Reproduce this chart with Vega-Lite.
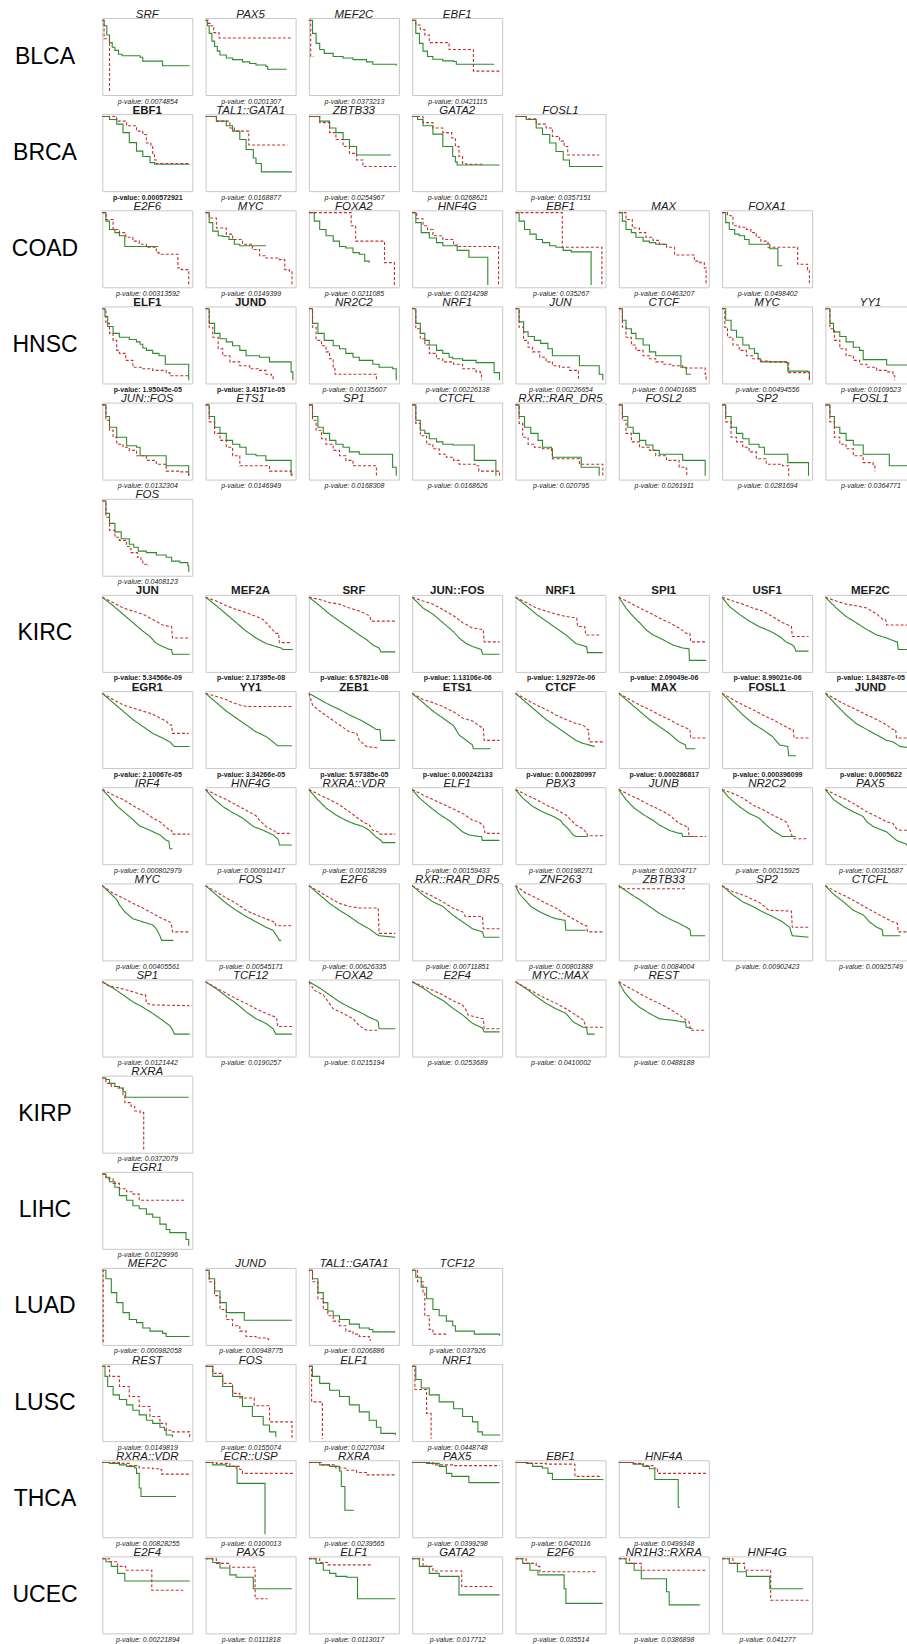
{"$schema":"https://vega.github.io/schema/vega-lite/v6.json","padding":{"top":8,"left":5,"right":5,"bottom":2},"columns":9,"align":"each","bounds":"flush","spacing":{"row":19.15,"column":13.3},
"concat":[
{"view":{"stroke":null},"width":84,"height":77,"data":{"values":[{}]},"mark":{"type":"text","text":"BLCA","fontSize":23,"dx":-2}},
{"title":"SRF","data":{"values":[{"g":"a","t":0,"s":0.97},{"g":"a","t":2,"s":0.9},{"g":"a","t":5,"s":0.78},{"g":"a","t":8,"s":0.68},{"g":"a","t":11,"s":0.62},{"g":"a","t":14,"s":0.58},{"g":"a","t":18,"s":0.53},{"g":"a","t":22,"s":0.51},{"g":"a","t":42,"s":0.49},{"g":"a","t":45,"s":0.44},{"g":"a","t":67,"s":0.38},{"g":"a","t":97,"s":0.38},{"g":"b","t":0,"s":0.97},{"g":"b","t":2,"s":0.73},{"g":"b","t":8,"s":0.05}]},"mark":"line","encoding":{"x":{"field":"t","type":"quantitative","title":"p-value: 0.0074854"},"y":{"field":"s","type":"quantitative"},"color":{"field":"g"},"strokeDash":{"field":"g","scale":{"range":[[1,0],[3,2]]}}}},
{"title":"PAX5","data":{"values":[{"g":"a","t":0,"s":0.97},{"g":"a","t":2,"s":0.9},{"g":"a","t":4,"s":0.8},{"g":"a","t":7,"s":0.7},{"g":"a","t":10,"s":0.63},{"g":"a","t":13,"s":0.57},{"g":"a","t":16,"s":0.52},{"g":"a","t":23,"s":0.48},{"g":"a","t":30,"s":0.46},{"g":"a","t":41,"s":0.43},{"g":"a","t":49,"s":0.41},{"g":"a","t":56,"s":0.39},{"g":"a","t":67,"s":0.37},{"g":"a","t":69,"s":0.335},{"g":"a","t":90,"s":0.335},{"g":"b","t":0,"s":0.97},{"g":"b","t":3,"s":0.93},{"g":"b","t":5,"s":0.9},{"g":"b","t":9,"s":0.81},{"g":"b","t":15,"s":0.74},{"g":"b","t":97,"s":0.74}]},"mark":"line","encoding":{"x":{"field":"t","type":"quantitative","title":"p-value: 0.0201307"},"y":{"field":"s","type":"quantitative"},"color":{"field":"g"},"strokeDash":{"field":"g"}}},
{"title":"MEF2C","data":{"values":[{"g":"a","t":0,"s":0.97},{"g":"a","t":4,"s":0.8},{"g":"a","t":8,"s":0.67},{"g":"a","t":12,"s":0.59},{"g":"a","t":17,"s":0.54},{"g":"a","t":27,"s":0.5},{"g":"a","t":38,"s":0.48},{"g":"a","t":49,"s":0.46},{"g":"a","t":64,"s":0.43},{"g":"a","t":71,"s":0.4},{"g":"a","t":97,"s":0.38},{"g":"b","t":0,"s":0.97},{"g":"b","t":2,"s":0.5},{"g":"b","t":5,"s":0.5}]},"mark":"line","encoding":{"x":{"field":"t","type":"quantitative","title":"p-value: 0.0373213"},"y":{"field":"s","type":"quantitative"},"color":{"field":"g"},"strokeDash":{"field":"g"}}},
{"title":"EBF1","data":{"values":[{"g":"a","t":0,"s":0.97},{"g":"a","t":4,"s":0.8},{"g":"a","t":8,"s":0.67},{"g":"a","t":12,"s":0.57},{"g":"a","t":17,"s":0.5},{"g":"a","t":23,"s":0.465},{"g":"a","t":34,"s":0.443},{"g":"a","t":46,"s":0.435},{"g":"a","t":49,"s":0.4},{"g":"a","t":91,"s":0.4},{"g":"b","t":0,"s":0.97},{"g":"b","t":4,"s":0.91},{"g":"b","t":9,"s":0.85},{"g":"b","t":14,"s":0.78},{"g":"b","t":19,"s":0.68},{"g":"b","t":41,"s":0.59},{"g":"b","t":68,"s":0.31},{"g":"b","t":97,"s":0.31}]},"mark":"line","encoding":{"x":{"field":"t","type":"quantitative","title":"p-value: 0.0421115"},"y":{"field":"s","type":"quantitative"},"color":{"field":"g"},"strokeDash":{"field":"g"}}},
{"view":{"stroke":null},"width":1,"height":1,"data":{"values":[]},"mark":"point"},
{"view":{"stroke":null},"width":1,"height":1,"data":{"values":[]},"mark":"point"},
{"view":{"stroke":null},"width":1,"height":1,"data":{"values":[]},"mark":"point"},
{"view":{"stroke":null},"width":1,"height":1,"data":{"values":[]},"mark":"point"},

{"view":{"stroke":null},"width":84,"height":77,"data":{"values":[{}]},"mark":{"type":"text","text":"BRCA","fontSize":23,"dx":-2}},
{"title":{"text":"EBF1","fontWeight":"bold","fontStyle":"normal"},"data":{"values":[{"g":"a","t":0,"s":0.97},{"g":"a","t":8,"s":0.93},{"g":"a","t":16,"s":0.87},{"g":"a","t":23,"s":0.76},{"g":"a","t":30,"s":0.63},{"g":"a","t":38,"s":0.52},{"g":"a","t":45,"s":0.45},{"g":"a","t":53,"s":0.37},{"g":"a","t":58,"s":0.35},{"g":"a","t":97,"s":0.35},{"g":"b","t":0,"s":0.97},{"g":"b","t":16,"s":0.91},{"g":"b","t":27,"s":0.85},{"g":"b","t":38,"s":0.78},{"g":"b","t":45,"s":0.735},{"g":"b","t":49,"s":0.625},{"g":"b","t":54,"s":0.58},{"g":"b","t":56,"s":0.49},{"g":"b","t":58,"s":0.405},{"g":"b","t":60,"s":0.36},{"g":"b","t":97,"s":0.36}]},"mark":"line","encoding":{"x":{"field":"t","type":"quantitative","title":"p-value: 0.000572921","axis":{"titleFontWeight":"bold","titleFontStyle":"normal"}},"y":{"field":"s","type":"quantitative"},"color":{"field":"g"},"strokeDash":{"field":"g"}}},
{"title":"TAL1::GATA1","data":{"values":[{"g":"a","t":0,"s":0.97},{"g":"a","t":12,"s":0.91},{"g":"a","t":23,"s":0.85},{"g":"a","t":30,"s":0.78},{"g":"a","t":38,"s":0.67},{"g":"a","t":45,"s":0.54},{"g":"a","t":53,"s":0.43},{"g":"a","t":56,"s":0.36},{"g":"a","t":62,"s":0.25},{"g":"a","t":96,"s":0.25},{"g":"b","t":0,"s":0.97},{"g":"b","t":12,"s":0.91},{"g":"b","t":27,"s":0.82},{"g":"b","t":32,"s":0.78},{"g":"b","t":48,"s":0.6},{"g":"b","t":91,"s":0.6}]},"mark":"line","encoding":{"x":{"field":"t","type":"quantitative","title":"p-value: 0.0168877"},"y":{"field":"s","type":"quantitative"},"color":{"field":"g"},"strokeDash":{"field":"g"}}},
{"title":"ZBTB33","data":{"values":[{"g":"a","t":0,"s":0.97},{"g":"a","t":12,"s":0.91},{"g":"a","t":23,"s":0.82},{"g":"a","t":30,"s":0.76},{"g":"a","t":38,"s":0.67},{"g":"a","t":45,"s":0.58},{"g":"a","t":53,"s":0.47},{"g":"a","t":91,"s":0.47},{"g":"b","t":0,"s":0.97},{"g":"b","t":12,"s":0.89},{"g":"b","t":23,"s":0.76},{"g":"b","t":30,"s":0.67},{"g":"b","t":38,"s":0.58},{"g":"b","t":45,"s":0.49},{"g":"b","t":53,"s":0.405},{"g":"b","t":60,"s":0.32},{"g":"b","t":97,"s":0.32}]},"mark":"line","encoding":{"x":{"field":"t","type":"quantitative","title":"p-value: 0.0254967"},"y":{"field":"s","type":"quantitative"},"color":{"field":"g"},"strokeDash":{"field":"g"}}},
{"title":"GATA2","data":{"values":[{"g":"a","t":0,"s":0.97},{"g":"a","t":6,"s":0.93},{"g":"a","t":12,"s":0.85},{"g":"a","t":23,"s":0.74},{"g":"a","t":34,"s":0.58},{"g":"a","t":45,"s":0.45},{"g":"a","t":48,"s":0.38},{"g":"a","t":50,"s":0.34},{"g":"a","t":97,"s":0.34},{"g":"b","t":0,"s":0.97},{"g":"b","t":12,"s":0.89},{"g":"b","t":23,"s":0.82},{"g":"b","t":34,"s":0.76},{"g":"b","t":44,"s":0.69},{"g":"b","t":48,"s":0.58},{"g":"b","t":52,"s":0.45},{"g":"b","t":56,"s":0.36},{"g":"b","t":60,"s":0.35},{"g":"b","t":78,"s":0.35}]},"mark":"line","encoding":{"x":{"field":"t","type":"quantitative","title":"p-value: 0.0268621"},"y":{"field":"s","type":"quantitative"},"color":{"field":"g"},"strokeDash":{"field":"g"}}},
{"title":"FOSL1","data":{"values":[{"g":"a","t":0,"s":0.97},{"g":"a","t":12,"s":0.93},{"g":"a","t":23,"s":0.82},{"g":"a","t":30,"s":0.735},{"g":"a","t":38,"s":0.625},{"g":"a","t":45,"s":0.515},{"g":"a","t":53,"s":0.405},{"g":"a","t":60,"s":0.32},{"g":"a","t":97,"s":0.32},{"g":"b","t":0,"s":0.97},{"g":"b","t":12,"s":0.94},{"g":"b","t":23,"s":0.87},{"g":"b","t":34,"s":0.82},{"g":"b","t":41,"s":0.71},{"g":"b","t":49,"s":0.65},{"g":"b","t":54,"s":0.58},{"g":"b","t":58,"s":0.47},{"g":"b","t":93,"s":0.47}]},"mark":"line","encoding":{"x":{"field":"t","type":"quantitative","title":"p-value: 0.0357151"},"y":{"field":"s","type":"quantitative"},"color":{"field":"g"},"strokeDash":{"field":"g"}}},
{"view":{"stroke":null},"width":1,"height":1,"data":{"values":[]},"mark":"point"},
{"view":{"stroke":null},"width":1,"height":1,"data":{"values":[]},"mark":"point"},
{"view":{"stroke":null},"width":1,"height":1,"data":{"values":[]},"mark":"point"},

{"view":{"stroke":null},"width":84,"height":77,"data":{"values":[{}]},"mark":{"type":"text","text":"COAD","fontSize":23,"dx":-2}},
{"title":"E2F6","data":{"values":[{"g":"a","t":0,"s":0.97},{"g":"a","t":4,"s":0.86},{"g":"a","t":8,"s":0.75},{"g":"a","t":14,"s":0.71},{"g":"a","t":19,"s":0.67},{"g":"a","t":25,"s":0.53},{"g":"a","t":62,"s":0.53},{"g":"b","t":0,"s":0.97},{"g":"b","t":4,"s":0.88},{"g":"b","t":12,"s":0.75},{"g":"b","t":19,"s":0.71},{"g":"b","t":26,"s":0.65},{"g":"b","t":34,"s":0.6},{"g":"b","t":41,"s":0.56},{"g":"b","t":49,"s":0.52},{"g":"b","t":60,"s":0.45},{"g":"b","t":63,"s":0.43},{"g":"b","t":84,"s":0.25},{"g":"b","t":88,"s":0.23},{"g":"b","t":96,"s":0.03}]},"mark":"line","encoding":{"x":{"field":"t","type":"quantitative","title":"p-value: 0.00313592"},"y":{"field":"s","type":"quantitative"},"color":{"field":"g"},"strokeDash":{"field":"g"}}},
{"title":"MYC","data":{"values":[{"g":"a","t":0,"s":0.97},{"g":"a","t":4,"s":0.84},{"g":"a","t":8,"s":0.73},{"g":"a","t":14,"s":0.67},{"g":"a","t":19,"s":0.66},{"g":"a","t":26,"s":0.62},{"g":"a","t":32,"s":0.56},{"g":"a","t":38,"s":0.54},{"g":"a","t":67,"s":0.54},{"g":"b","t":0,"s":0.97},{"g":"b","t":4,"s":0.9},{"g":"b","t":12,"s":0.77},{"g":"b","t":23,"s":0.69},{"g":"b","t":30,"s":0.62},{"g":"b","t":41,"s":0.56},{"g":"b","t":52,"s":0.49},{"g":"b","t":60,"s":0.41},{"g":"b","t":67,"s":0.38},{"g":"b","t":82,"s":0.36},{"g":"b","t":88,"s":0.23},{"g":"b","t":93,"s":0.21},{"g":"b","t":96,"s":0.03}]},"mark":"line","encoding":{"x":{"field":"t","type":"quantitative","title":"p-value: 0.0149399"},"y":{"field":"s","type":"quantitative"},"color":{"field":"g"},"strokeDash":{"field":"g"}}},
{"title":"FOXA2","data":{"values":[{"g":"a","t":0,"s":0.97},{"g":"a","t":6,"s":0.86},{"g":"a","t":12,"s":0.75},{"g":"a","t":19,"s":0.67},{"g":"a","t":27,"s":0.6},{"g":"a","t":34,"s":0.53},{"g":"a","t":41,"s":0.51},{"g":"a","t":49,"s":0.45},{"g":"a","t":56,"s":0.43},{"g":"a","t":62,"s":0.34},{"g":"a","t":67,"s":0.32},{"g":"b","t":0,"s":0.97},{"g":"b","t":47,"s":0.8},{"g":"b","t":52,"s":0.6},{"g":"b","t":84,"s":0.32},{"g":"b","t":95,"s":0.03}]},"mark":"line","encoding":{"x":{"field":"t","type":"quantitative","title":"p-value: 0.0211085"},"y":{"field":"s","type":"quantitative"},"color":{"field":"g"},"strokeDash":{"field":"g"}}},
{"title":"HNF4G","data":{"values":[{"g":"a","t":0,"s":0.97},{"g":"a","t":4,"s":0.84},{"g":"a","t":10,"s":0.71},{"g":"a","t":19,"s":0.64},{"g":"a","t":27,"s":0.58},{"g":"a","t":34,"s":0.54},{"g":"a","t":50,"s":0.48},{"g":"a","t":63,"s":0.39},{"g":"a","t":84,"s":0.03},{"g":"b","t":0,"s":0.97},{"g":"b","t":5,"s":0.89},{"g":"b","t":12,"s":0.8},{"g":"b","t":17,"s":0.75},{"g":"b","t":23,"s":0.67},{"g":"b","t":34,"s":0.62},{"g":"b","t":46,"s":0.55},{"g":"b","t":50,"s":0.53},{"g":"b","t":96,"s":0.03}]},"mark":"line","encoding":{"x":{"field":"t","type":"quantitative","title":"p-value: 0.0214298"},"y":{"field":"s","type":"quantitative"},"color":{"field":"g"},"strokeDash":{"field":"g"}}},
{"title":"EBF1","data":{"values":[{"g":"a","t":0,"s":0.97},{"g":"a","t":4,"s":0.86},{"g":"a","t":10,"s":0.75},{"g":"a","t":16,"s":0.69},{"g":"a","t":23,"s":0.62},{"g":"a","t":30,"s":0.58},{"g":"a","t":38,"s":0.54},{"g":"a","t":45,"s":0.52},{"g":"a","t":53,"s":0.48},{"g":"a","t":62,"s":0.46},{"g":"a","t":84,"s":0.03},{"g":"b","t":0,"s":0.97},{"g":"b","t":52,"s":0.52},{"g":"b","t":96,"s":0.03}]},"mark":"line","encoding":{"x":{"field":"t","type":"quantitative","title":"p-value: 0.035267"},"y":{"field":"s","type":"quantitative"},"color":{"field":"g"},"strokeDash":{"field":"g"}}},
{"title":"MAX","data":{"values":[{"g":"a","t":0,"s":0.97},{"g":"a","t":4,"s":0.86},{"g":"a","t":8,"s":0.75},{"g":"a","t":14,"s":0.71},{"g":"a","t":19,"s":0.65},{"g":"a","t":27,"s":0.6},{"g":"a","t":34,"s":0.58},{"g":"a","t":41,"s":0.56},{"g":"a","t":53,"s":0.55},{"g":"b","t":0,"s":0.97},{"g":"b","t":8,"s":0.88},{"g":"b","t":15,"s":0.77},{"g":"b","t":23,"s":0.71},{"g":"b","t":30,"s":0.65},{"g":"b","t":38,"s":0.61},{"g":"b","t":45,"s":0.56},{"g":"b","t":53,"s":0.52},{"g":"b","t":62,"s":0.42},{"g":"b","t":84,"s":0.34},{"g":"b","t":90,"s":0.32},{"g":"b","t":95,"s":0.25},{"g":"b","t":97,"s":0.03}]},"mark":"line","encoding":{"x":{"field":"t","type":"quantitative","title":"p-value: 0.0463207"},"y":{"field":"s","type":"quantitative"},"color":{"field":"g"},"strokeDash":{"field":"g"}}},
{"title":"FOXA1","data":{"values":[{"g":"a","t":0,"s":0.97},{"g":"a","t":4,"s":0.84},{"g":"a","t":8,"s":0.75},{"g":"a","t":14,"s":0.69},{"g":"a","t":19,"s":0.67},{"g":"a","t":25,"s":0.62},{"g":"a","t":30,"s":0.56},{"g":"a","t":53,"s":0.5},{"g":"a","t":62,"s":0.28},{"g":"a","t":67,"s":0.28},{"g":"b","t":0,"s":0.97},{"g":"b","t":6,"s":0.93},{"g":"b","t":12,"s":0.8},{"g":"b","t":19,"s":0.78},{"g":"b","t":27,"s":0.75},{"g":"b","t":32,"s":0.71},{"g":"b","t":38,"s":0.65},{"g":"b","t":43,"s":0.6},{"g":"b","t":51,"s":0.52},{"g":"b","t":84,"s":0.3},{"g":"b","t":95,"s":0.23},{"g":"b","t":97,"s":0.03}]},"mark":"line","encoding":{"x":{"field":"t","type":"quantitative","title":"p-value: 0.0498402"},"y":{"field":"s","type":"quantitative"},"color":{"field":"g"},"strokeDash":{"field":"g"}}},
{"view":{"stroke":null},"width":1,"height":1,"data":{"values":[]},"mark":"point"},

{"view":{"stroke":null},"width":84,"height":77,"data":{"values":[{}]},"mark":{"type":"text","text":"HNSC","fontSize":23,"dx":-2}},
{"title":{"text":"ELF1","fontWeight":"bold","fontStyle":"normal"},"data":{"values":[{"g":"a","t":0,"s":0.97},{"g":"a","t":3,"s":0.87},{"g":"a","t":6,"s":0.74},{"g":"a","t":12,"s":0.65},{"g":"a","t":19,"s":0.6},{"g":"a","t":30,"s":0.57},{"g":"a","t":38,"s":0.54},{"g":"a","t":42,"s":0.51},{"g":"a","t":45,"s":0.46},{"g":"a","t":49,"s":0.43},{"g":"a","t":56,"s":0.39},{"g":"a","t":63,"s":0.36},{"g":"a","t":70,"s":0.25},{"g":"a","t":96,"s":0.04},{"g":"b","t":0,"s":0.97},{"g":"b","t":4,"s":0.78},{"g":"b","t":8,"s":0.65},{"g":"b","t":12,"s":0.56},{"g":"b","t":16,"s":0.43},{"g":"b","t":19,"s":0.39},{"g":"b","t":26,"s":0.3},{"g":"b","t":34,"s":0.21},{"g":"b","t":45,"s":0.19},{"g":"b","t":56,"s":0.17},{"g":"b","t":71,"s":0.14},{"g":"b","t":75,"s":0.1},{"g":"b","t":95,"s":0.08}]},"mark":"line","encoding":{"x":{"field":"t","type":"quantitative","title":"p-value: 1.95045e-05","axis":{"titleFontWeight":"bold","titleFontStyle":"normal"}},"y":{"field":"s","type":"quantitative"},"color":{"field":"g"},"strokeDash":{"field":"g"}}},
{"title":{"text":"JUND","fontWeight":"bold","fontStyle":"normal"},"data":{"values":[{"g":"a","t":0,"s":0.97},{"g":"a","t":4,"s":0.78},{"g":"a","t":10,"s":0.65},{"g":"a","t":16,"s":0.58},{"g":"a","t":23,"s":0.54},{"g":"a","t":30,"s":0.49},{"g":"a","t":38,"s":0.43},{"g":"a","t":45,"s":0.36},{"g":"a","t":60,"s":0.34},{"g":"a","t":71,"s":0.28},{"g":"a","t":95,"s":0.15},{"g":"a","t":97,"s":0.04},{"g":"b","t":0,"s":0.97},{"g":"b","t":4,"s":0.73},{"g":"b","t":8,"s":0.6},{"g":"b","t":14,"s":0.45},{"g":"b","t":19,"s":0.36},{"g":"b","t":27,"s":0.28},{"g":"b","t":38,"s":0.23},{"g":"b","t":49,"s":0.19},{"g":"b","t":60,"s":0.17},{"g":"b","t":67,"s":0.12},{"g":"b","t":73,"s":0.1},{"g":"b","t":75,"s":0.04}]},"mark":"line","encoding":{"x":{"field":"t","type":"quantitative","title":"p-value: 3.41571e-05","axis":{"titleFontWeight":"bold","titleFontStyle":"normal"}},"y":{"field":"s","type":"quantitative"},"color":{"field":"g"},"strokeDash":{"field":"g"}}},
{"title":"NR2C2","data":{"values":[{"g":"a","t":0,"s":0.97},{"g":"a","t":4,"s":0.78},{"g":"a","t":10,"s":0.65},{"g":"a","t":17,"s":0.56},{"g":"a","t":27,"s":0.49},{"g":"a","t":34,"s":0.45},{"g":"a","t":41,"s":0.39},{"g":"a","t":49,"s":0.34},{"g":"a","t":56,"s":0.3},{"g":"a","t":71,"s":0.25},{"g":"a","t":78,"s":0.21},{"g":"a","t":93,"s":0.19},{"g":"a","t":97,"s":0.04},{"g":"b","t":0,"s":0.97},{"g":"b","t":4,"s":0.73},{"g":"b","t":8,"s":0.56},{"g":"b","t":14,"s":0.49},{"g":"b","t":19,"s":0.41},{"g":"b","t":23,"s":0.32},{"g":"b","t":27,"s":0.19},{"g":"b","t":29,"s":0.12},{"g":"b","t":75,"s":0.04}]},"mark":"line","encoding":{"x":{"field":"t","type":"quantitative","title":"p-value: 0.00135607"},"y":{"field":"s","type":"quantitative"},"color":{"field":"g"},"strokeDash":{"field":"g"}}},
{"title":"NRF1","data":{"values":[{"g":"a","t":0,"s":0.97},{"g":"a","t":4,"s":0.78},{"g":"a","t":9,"s":0.65},{"g":"a","t":14,"s":0.56},{"g":"a","t":19,"s":0.5},{"g":"a","t":27,"s":0.43},{"g":"a","t":34,"s":0.39},{"g":"a","t":41,"s":0.34},{"g":"a","t":45,"s":0.32},{"g":"a","t":56,"s":0.3},{"g":"a","t":71,"s":0.27},{"g":"a","t":91,"s":0.14},{"g":"a","t":97,"s":0.04},{"g":"b","t":0,"s":0.97},{"g":"b","t":4,"s":0.71},{"g":"b","t":9,"s":0.58},{"g":"b","t":14,"s":0.5},{"g":"b","t":19,"s":0.39},{"g":"b","t":27,"s":0.32},{"g":"b","t":34,"s":0.28},{"g":"b","t":46,"s":0.25},{"g":"b","t":56,"s":0.19},{"g":"b","t":71,"s":0.15},{"g":"b","t":76,"s":0.12},{"g":"b","t":77,"s":0.04}]},"mark":"line","encoding":{"x":{"field":"t","type":"quantitative","title":"p-value: 0.00226138"},"y":{"field":"s","type":"quantitative"},"color":{"field":"g"},"strokeDash":{"field":"g"}}},
{"title":"JUN","data":{"values":[{"g":"a","t":0,"s":0.97},{"g":"a","t":4,"s":0.8},{"g":"a","t":9,"s":0.67},{"g":"a","t":14,"s":0.61},{"g":"a","t":21,"s":0.56},{"g":"a","t":28,"s":0.52},{"g":"a","t":36,"s":0.45},{"g":"a","t":41,"s":0.36},{"g":"a","t":71,"s":0.23},{"g":"a","t":93,"s":0.12},{"g":"a","t":97,"s":0.04},{"g":"b","t":0,"s":0.97},{"g":"b","t":4,"s":0.73},{"g":"b","t":9,"s":0.56},{"g":"b","t":14,"s":0.47},{"g":"b","t":19,"s":0.41},{"g":"b","t":27,"s":0.34},{"g":"b","t":34,"s":0.28},{"g":"b","t":41,"s":0.23},{"g":"b","t":49,"s":0.21},{"g":"b","t":60,"s":0.17},{"g":"b","t":69,"s":0.16},{"g":"b","t":70,"s":0.04}]},"mark":"line","encoding":{"x":{"field":"t","type":"quantitative","title":"p-value: 0.00226654"},"y":{"field":"s","type":"quantitative"},"color":{"field":"g"},"strokeDash":{"field":"g"}}},
{"title":"CTCF","data":{"values":[{"g":"a","t":0,"s":0.97},{"g":"a","t":4,"s":0.82},{"g":"a","t":8,"s":0.71},{"g":"a","t":14,"s":0.65},{"g":"a","t":19,"s":0.58},{"g":"a","t":27,"s":0.5},{"g":"a","t":34,"s":0.41},{"g":"a","t":41,"s":0.36},{"g":"a","t":69,"s":0.21},{"g":"a","t":75,"s":0.12},{"g":"a","t":80,"s":0.12},{"g":"b","t":0,"s":0.97},{"g":"b","t":4,"s":0.73},{"g":"b","t":8,"s":0.6},{"g":"b","t":14,"s":0.5},{"g":"b","t":19,"s":0.43},{"g":"b","t":27,"s":0.36},{"g":"b","t":34,"s":0.32},{"g":"b","t":41,"s":0.28},{"g":"b","t":49,"s":0.25},{"g":"b","t":58,"s":0.23},{"g":"b","t":71,"s":0.2},{"g":"b","t":96,"s":0.12},{"g":"b","t":97,"s":0.04}]},"mark":"line","encoding":{"x":{"field":"t","type":"quantitative","title":"p-value: 0.00401685"},"y":{"field":"s","type":"quantitative"},"color":{"field":"g"},"strokeDash":{"field":"g"}}},
{"title":"MYC","data":{"values":[{"g":"a","t":0,"s":0.97},{"g":"a","t":4,"s":0.82},{"g":"a","t":10,"s":0.69},{"g":"a","t":16,"s":0.6},{"g":"a","t":23,"s":0.5},{"g":"a","t":30,"s":0.45},{"g":"a","t":36,"s":0.39},{"g":"a","t":40,"s":0.32},{"g":"a","t":43,"s":0.28},{"g":"a","t":71,"s":0.27},{"g":"a","t":73,"s":0.16},{"g":"a","t":95,"s":0.15},{"g":"a","t":97,"s":0.04},{"g":"b","t":0,"s":0.97},{"g":"b","t":3,"s":0.73},{"g":"b","t":6,"s":0.6},{"g":"b","t":12,"s":0.5},{"g":"b","t":19,"s":0.43},{"g":"b","t":27,"s":0.36},{"g":"b","t":34,"s":0.32},{"g":"b","t":41,"s":0.29},{"g":"b","t":53,"s":0.28},{"g":"b","t":74,"s":0.14},{"g":"b","t":97,"s":0.04}]},"mark":"line","encoding":{"x":{"field":"t","type":"quantitative","title":"p-value: 0.00494556"},"y":{"field":"s","type":"quantitative"},"color":{"field":"g"},"strokeDash":{"field":"g"}}},
{"title":"YY1","data":{"values":[{"g":"a","t":0,"s":0.97},{"g":"a","t":5,"s":0.78},{"g":"a","t":9,"s":0.67},{"g":"a","t":16,"s":0.61},{"g":"a","t":23,"s":0.54},{"g":"a","t":31,"s":0.47},{"g":"a","t":38,"s":0.43},{"g":"a","t":42,"s":0.31},{"g":"a","t":68,"s":0.24},{"g":"a","t":97,"s":0.24},{"g":"b","t":0,"s":0.97},{"g":"b","t":5,"s":0.71},{"g":"b","t":10,"s":0.56},{"g":"b","t":16,"s":0.45},{"g":"b","t":23,"s":0.36},{"g":"b","t":31,"s":0.3},{"g":"b","t":38,"s":0.25},{"g":"b","t":46,"s":0.21},{"g":"b","t":57,"s":0.17},{"g":"b","t":68,"s":0.15},{"g":"b","t":75,"s":0.1},{"g":"b","t":77,"s":0.04}]},"mark":"line","encoding":{"x":{"field":"t","type":"quantitative","title":"p-value: 0.0109523"},"y":{"field":"s","type":"quantitative"},"color":{"field":"g"},"strokeDash":{"field":"g"}}},

{"view":{"stroke":null},"width":1,"height":1,"data":{"values":[]},"mark":"point"},
{"title":"JUN::FOS","data":{"values":[{"g":"a","t":0,"s":0.97},{"g":"a","t":4,"s":0.82},{"g":"a","t":8,"s":0.68},{"g":"a","t":16,"s":0.55},{"g":"a","t":27,"s":0.44},{"g":"a","t":38,"s":0.42},{"g":"a","t":42,"s":0.31},{"g":"a","t":71,"s":0.18},{"g":"a","t":96,"s":0.05},{"g":"b","t":0,"s":0.97},{"g":"b","t":4,"s":0.77},{"g":"b","t":8,"s":0.64},{"g":"b","t":12,"s":0.55},{"g":"b","t":16,"s":0.46},{"g":"b","t":23,"s":0.42},{"g":"b","t":30,"s":0.38},{"g":"b","t":38,"s":0.31},{"g":"b","t":49,"s":0.25},{"g":"b","t":60,"s":0.2},{"g":"b","t":71,"s":0.11},{"g":"b","t":86,"s":0.1},{"g":"b","t":95,"s":0.07},{"g":"b","t":96,"s":0.05}]},"mark":"line","encoding":{"x":{"field":"t","type":"quantitative","title":"p-value: 0.0132304"},"y":{"field":"s","type":"quantitative"},"color":{"field":"g"},"strokeDash":{"field":"g"}}},
{"title":"ETS1","data":{"values":[{"g":"a","t":0,"s":0.97},{"g":"a","t":4,"s":0.82},{"g":"a","t":10,"s":0.68},{"g":"a","t":16,"s":0.6},{"g":"a","t":23,"s":0.51},{"g":"a","t":30,"s":0.46},{"g":"a","t":38,"s":0.42},{"g":"a","t":45,"s":0.33},{"g":"a","t":56,"s":0.31},{"g":"a","t":67,"s":0.25},{"g":"a","t":95,"s":0.05},{"g":"b","t":0,"s":0.97},{"g":"b","t":4,"s":0.75},{"g":"b","t":10,"s":0.6},{"g":"b","t":16,"s":0.51},{"g":"b","t":23,"s":0.42},{"g":"b","t":30,"s":0.31},{"g":"b","t":38,"s":0.18},{"g":"b","t":67,"s":0.18},{"g":"b","t":71,"s":0.11},{"g":"b","t":95,"s":0.09},{"g":"b","t":96,"s":0.05}]},"mark":"line","encoding":{"x":{"field":"t","type":"quantitative","title":"p-value: 0.0146949"},"y":{"field":"s","type":"quantitative"},"color":{"field":"g"},"strokeDash":{"field":"g"}}},
{"title":"SP1","data":{"values":[{"g":"a","t":0,"s":0.97},{"g":"a","t":4,"s":0.82},{"g":"a","t":10,"s":0.68},{"g":"a","t":16,"s":0.6},{"g":"a","t":23,"s":0.51},{"g":"a","t":30,"s":0.46},{"g":"a","t":38,"s":0.42},{"g":"a","t":45,"s":0.36},{"g":"a","t":56,"s":0.33},{"g":"a","t":86,"s":0.33},{"g":"a","t":93,"s":0.16},{"g":"a","t":97,"s":0.05},{"g":"b","t":0,"s":0.97},{"g":"b","t":4,"s":0.77},{"g":"b","t":8,"s":0.64},{"g":"b","t":14,"s":0.53},{"g":"b","t":19,"s":0.46},{"g":"b","t":27,"s":0.38},{"g":"b","t":34,"s":0.31},{"g":"b","t":41,"s":0.25},{"g":"b","t":49,"s":0.18},{"g":"b","t":75,"s":0.05}]},"mark":"line","encoding":{"x":{"field":"t","type":"quantitative","title":"p-value: 0.0168308"},"y":{"field":"s","type":"quantitative"},"color":{"field":"g"},"strokeDash":{"field":"g"}}},
{"title":"CTCFL","data":{"values":[{"g":"a","t":0,"s":0.97},{"g":"a","t":4,"s":0.77},{"g":"a","t":9,"s":0.64},{"g":"a","t":14,"s":0.6},{"g":"a","t":19,"s":0.53},{"g":"a","t":27,"s":0.49},{"g":"a","t":34,"s":0.46},{"g":"a","t":45,"s":0.45},{"g":"a","t":69,"s":0.25},{"g":"a","t":93,"s":0.05},{"g":"b","t":0,"s":0.97},{"g":"b","t":4,"s":0.73},{"g":"b","t":9,"s":0.57},{"g":"b","t":16,"s":0.46},{"g":"b","t":23,"s":0.4},{"g":"b","t":30,"s":0.33},{"g":"b","t":38,"s":0.29},{"g":"b","t":46,"s":0.25},{"g":"b","t":52,"s":0.2},{"g":"b","t":71,"s":0.18},{"g":"b","t":74,"s":0.11},{"g":"b","t":97,"s":0.05}]},"mark":"line","encoding":{"x":{"field":"t","type":"quantitative","title":"p-value: 0.0168626"},"y":{"field":"s","type":"quantitative"},"color":{"field":"g"},"strokeDash":{"field":"g"}}},
{"title":"RXR::RAR_DR5","data":{"values":[{"g":"a","t":0,"s":0.97},{"g":"a","t":4,"s":0.82},{"g":"a","t":10,"s":0.68},{"g":"a","t":17,"s":0.6},{"g":"a","t":25,"s":0.51},{"g":"a","t":30,"s":0.42},{"g":"a","t":40,"s":0.4},{"g":"a","t":41,"s":0.29},{"g":"a","t":73,"s":0.16},{"g":"a","t":93,"s":0.05},{"g":"b","t":0,"s":0.97},{"g":"b","t":4,"s":0.73},{"g":"b","t":8,"s":0.55},{"g":"b","t":14,"s":0.46},{"g":"b","t":21,"s":0.42},{"g":"b","t":30,"s":0.4},{"g":"b","t":40,"s":0.38},{"g":"b","t":41,"s":0.27},{"g":"b","t":71,"s":0.2},{"g":"b","t":97,"s":0.05}]},"mark":"line","encoding":{"x":{"field":"t","type":"quantitative","title":"p-value: 0.020795"},"y":{"field":"s","type":"quantitative"},"color":{"field":"g"},"strokeDash":{"field":"g"}}},
{"title":"FOSL2","data":{"values":[{"g":"a","t":0,"s":0.97},{"g":"a","t":4,"s":0.82},{"g":"a","t":10,"s":0.68},{"g":"a","t":16,"s":0.6},{"g":"a","t":23,"s":0.51},{"g":"a","t":30,"s":0.45},{"g":"a","t":38,"s":0.38},{"g":"a","t":45,"s":0.33},{"g":"a","t":71,"s":0.25},{"g":"a","t":96,"s":0.05},{"g":"b","t":0,"s":0.97},{"g":"b","t":4,"s":0.77},{"g":"b","t":8,"s":0.6},{"g":"b","t":14,"s":0.49},{"g":"b","t":23,"s":0.42},{"g":"b","t":34,"s":0.38},{"g":"b","t":41,"s":0.31},{"g":"b","t":53,"s":0.25},{"g":"b","t":67,"s":0.16},{"g":"b","t":75,"s":0.14},{"g":"b","t":75.5,"s":0.05}]},"mark":"line","encoding":{"x":{"field":"t","type":"quantitative","title":"p-value: 0.0261911"},"y":{"field":"s","type":"quantitative"},"color":{"field":"g"},"strokeDash":{"field":"g"}}},
{"title":"SP2","data":{"values":[{"g":"a","t":0,"s":0.97},{"g":"a","t":4,"s":0.82},{"g":"a","t":10,"s":0.68},{"g":"a","t":16,"s":0.6},{"g":"a","t":23,"s":0.53},{"g":"a","t":30,"s":0.46},{"g":"a","t":41,"s":0.42},{"g":"a","t":47,"s":0.33},{"g":"a","t":73,"s":0.22},{"g":"a","t":96,"s":0.05},{"g":"b","t":0,"s":0.97},{"g":"b","t":4,"s":0.75},{"g":"b","t":10,"s":0.55},{"g":"b","t":16,"s":0.49},{"g":"b","t":23,"s":0.42},{"g":"b","t":30,"s":0.36},{"g":"b","t":38,"s":0.27},{"g":"b","t":49,"s":0.2},{"g":"b","t":67,"s":0.18},{"g":"b","t":74,"s":0.05}]},"mark":"line","encoding":{"x":{"field":"t","type":"quantitative","title":"p-value: 0.0281694"},"y":{"field":"s","type":"quantitative"},"color":{"field":"g"},"strokeDash":{"field":"g"}}},
{"title":"FOSL1","data":{"values":[{"g":"a","t":0,"s":0.97},{"g":"a","t":5,"s":0.82},{"g":"a","t":10,"s":0.68},{"g":"a","t":16,"s":0.6},{"g":"a","t":23,"s":0.51},{"g":"a","t":31,"s":0.45},{"g":"a","t":42,"s":0.33},{"g":"a","t":71,"s":0.18},{"g":"a","t":97,"s":0.18},{"g":"b","t":0,"s":0.97},{"g":"b","t":5,"s":0.75},{"g":"b","t":10,"s":0.55},{"g":"b","t":16,"s":0.46},{"g":"b","t":23,"s":0.4},{"g":"b","t":31,"s":0.31},{"g":"b","t":42,"s":0.22},{"g":"b","t":53,"s":0.18},{"g":"b","t":55,"s":0.11}]},"mark":"line","encoding":{"x":{"field":"t","type":"quantitative","title":"p-value: 0.0364771"},"y":{"field":"s","type":"quantitative"},"color":{"field":"g"},"strokeDash":{"field":"g"}}},

{"view":{"stroke":null},"width":1,"height":1,"data":{"values":[]},"mark":"point"},
{"title":"FOS","data":{"values":[{"g":"a","t":0,"s":0.97},{"g":"a","t":4,"s":0.81},{"g":"a","t":8,"s":0.68},{"g":"a","t":14,"s":0.57},{"g":"a","t":21,"s":0.48},{"g":"a","t":30,"s":0.41},{"g":"a","t":35,"s":0.37},{"g":"a","t":40,"s":0.32},{"g":"a","t":49,"s":0.3},{"g":"a","t":60,"s":0.27},{"g":"a","t":71,"s":0.24},{"g":"a","t":77,"s":0.19},{"g":"a","t":86,"s":0.17},{"g":"a","t":95,"s":0.13},{"g":"a","t":96,"s":0.05},{"g":"b","t":0,"s":0.97},{"g":"b","t":4,"s":0.76},{"g":"b","t":8,"s":0.59},{"g":"b","t":14,"s":0.5},{"g":"b","t":19,"s":0.46},{"g":"b","t":27,"s":0.38},{"g":"b","t":30,"s":0.35},{"g":"b","t":32,"s":0.3},{"g":"b","t":39,"s":0.24},{"g":"b","t":43,"s":0.19},{"g":"b","t":45,"s":0.15},{"g":"b","t":51,"s":0.13}]},"mark":"line","encoding":{"x":{"field":"t","type":"quantitative","title":"p-value: 0.0408123"},"y":{"field":"s","type":"quantitative"},"color":{"field":"g"},"strokeDash":{"field":"g"}}},
{"view":{"stroke":null},"width":1,"height":1,"data":{"values":[]},"mark":"point"},
{"view":{"stroke":null},"width":1,"height":1,"data":{"values":[]},"mark":"point"},
{"view":{"stroke":null},"width":1,"height":1,"data":{"values":[]},"mark":"point"},
{"view":{"stroke":null},"width":1,"height":1,"data":{"values":[]},"mark":"point"},
{"view":{"stroke":null},"width":1,"height":1,"data":{"values":[]},"mark":"point"},
{"view":{"stroke":null},"width":1,"height":1,"data":{"values":[]},"mark":"point"},
{"view":{"stroke":null},"width":1,"height":1,"data":{"values":[]},"mark":"point"},

{"view":{"stroke":null},"width":84,"height":77,"data":{"values":[{}]},"mark":{"type":"text","text":"KIRC","fontSize":23,"dx":-2}},
{"title":{"text":"JUN","fontWeight":"bold","fontStyle":"normal"},"data":{"values":[{"g":"a","t":0,"s":0.97},{"g":"a","t":12,"s":0.86},{"g":"a","t":23,"s":0.75},{"g":"a","t":34,"s":0.64},{"g":"a","t":45,"s":0.53},{"g":"a","t":53,"s":0.46},{"g":"a","t":60,"s":0.37},{"g":"a","t":67,"s":0.33},{"g":"a","t":75,"s":0.29},{"g":"a","t":77,"s":0.29},{"g":"a","t":78,"s":0.23},{"g":"a","t":97,"s":0.23},{"g":"b","t":0,"s":0.97},{"g":"b","t":12,"s":0.9},{"g":"b","t":23,"s":0.83},{"g":"b","t":34,"s":0.79},{"g":"b","t":45,"s":0.75},{"g":"b","t":56,"s":0.68},{"g":"b","t":67,"s":0.61},{"g":"b","t":75,"s":0.59},{"g":"b","t":77,"s":0.59},{"g":"b","t":78,"s":0.44},{"g":"b","t":97,"s":0.44}]},"mark":{"type":"line","interpolate":"linear"},"encoding":{"x":{"field":"t","type":"quantitative","title":"p-value: 5.34566e-09","axis":{"titleFontWeight":"bold","titleFontStyle":"normal"}},"y":{"field":"s","type":"quantitative"},"color":{"field":"g"},"strokeDash":{"field":"g"}}},
{"title":{"text":"MEF2A","fontWeight":"bold","fontStyle":"normal"},"data":{"values":[{"g":"a","t":0,"s":0.97},{"g":"a","t":12,"s":0.86},{"g":"a","t":23,"s":0.75},{"g":"a","t":34,"s":0.64},{"g":"a","t":45,"s":0.53},{"g":"a","t":56,"s":0.44},{"g":"a","t":67,"s":0.37},{"g":"a","t":78,"s":0.33},{"g":"a","t":84,"s":0.31},{"g":"a","t":86,"s":0.29},{"g":"a","t":97,"s":0.29},{"g":"b","t":0,"s":0.97},{"g":"b","t":12,"s":0.92},{"g":"b","t":23,"s":0.86},{"g":"b","t":34,"s":0.81},{"g":"b","t":45,"s":0.77},{"g":"b","t":56,"s":0.72},{"g":"b","t":64,"s":0.68},{"g":"b","t":71,"s":0.59},{"g":"b","t":78,"s":0.5},{"g":"b","t":81,"s":0.5},{"g":"b","t":82,"s":0.38},{"g":"b","t":96,"s":0.38}]},"mark":{"type":"line","interpolate":"linear"},"encoding":{"x":{"field":"t","type":"quantitative","title":"p-value: 2.17395e-08","axis":{"titleFontWeight":"bold","titleFontStyle":"normal"}},"y":{"field":"s","type":"quantitative"},"color":{"field":"g"},"strokeDash":{"field":"g"}}},
{"title":{"text":"SRF","fontWeight":"bold","fontStyle":"normal"},"data":{"values":[{"g":"a","t":0,"s":0.97},{"g":"a","t":12,"s":0.86},{"g":"a","t":23,"s":0.75},{"g":"a","t":34,"s":0.66},{"g":"a","t":45,"s":0.57},{"g":"a","t":56,"s":0.48},{"g":"a","t":64,"s":0.42},{"g":"a","t":71,"s":0.35},{"g":"a","t":78,"s":0.31},{"g":"a","t":80,"s":0.26},{"g":"a","t":96,"s":0.26},{"g":"b","t":0,"s":0.97},{"g":"b","t":12,"s":0.94},{"g":"b","t":23,"s":0.9},{"g":"b","t":34,"s":0.88},{"g":"b","t":45,"s":0.83},{"g":"b","t":56,"s":0.79},{"g":"b","t":64,"s":0.75},{"g":"b","t":68,"s":0.72},{"g":"b","t":69,"s":0.66},{"g":"b","t":96,"s":0.66}]},"mark":{"type":"line","interpolate":"linear"},"encoding":{"x":{"field":"t","type":"quantitative","title":"p-value: 6.57821e-08","axis":{"titleFontWeight":"bold","titleFontStyle":"normal"}},"y":{"field":"s","type":"quantitative"},"color":{"field":"g"},"strokeDash":{"field":"g"}}},
{"title":{"text":"JUN::FOS","fontWeight":"bold","fontStyle":"normal"},"data":{"values":[{"g":"a","t":0,"s":0.97},{"g":"a","t":12,"s":0.83},{"g":"a","t":23,"s":0.75},{"g":"a","t":34,"s":0.64},{"g":"a","t":46,"s":0.52},{"g":"a","t":52,"s":0.44},{"g":"a","t":60,"s":0.37},{"g":"a","t":67,"s":0.33},{"g":"a","t":77,"s":0.29},{"g":"a","t":78,"s":0.23},{"g":"a","t":97,"s":0.23},{"g":"b","t":0,"s":0.97},{"g":"b","t":12,"s":0.92},{"g":"b","t":23,"s":0.88},{"g":"b","t":34,"s":0.81},{"g":"b","t":46,"s":0.73},{"g":"b","t":56,"s":0.64},{"g":"b","t":67,"s":0.57},{"g":"b","t":78,"s":0.55},{"g":"b","t":79,"s":0.55},{"g":"b","t":80,"s":0.39},{"g":"b","t":97,"s":0.39}]},"mark":{"type":"line","interpolate":"linear"},"encoding":{"x":{"field":"t","type":"quantitative","title":"p-value: 1.13106e-06","axis":{"titleFontWeight":"bold","titleFontStyle":"normal"}},"y":{"field":"s","type":"quantitative"},"color":{"field":"g"},"strokeDash":{"field":"g"}}},
{"title":{"text":"NRF1","fontWeight":"bold","fontStyle":"normal"},"data":{"values":[{"g":"a","t":0,"s":0.97},{"g":"a","t":12,"s":0.86},{"g":"a","t":23,"s":0.75},{"g":"a","t":34,"s":0.66},{"g":"a","t":45,"s":0.57},{"g":"a","t":56,"s":0.48},{"g":"a","t":67,"s":0.37},{"g":"a","t":78,"s":0.33},{"g":"a","t":79,"s":0.33},{"g":"a","t":80,"s":0.25},{"g":"a","t":97,"s":0.25},{"g":"b","t":0,"s":0.97},{"g":"b","t":12,"s":0.9},{"g":"b","t":23,"s":0.83},{"g":"b","t":34,"s":0.79},{"g":"b","t":45,"s":0.75},{"g":"b","t":56,"s":0.72},{"g":"b","t":68,"s":0.7},{"g":"b","t":69,"s":0.59},{"g":"b","t":77,"s":0.59},{"g":"b","t":78,"s":0.48},{"g":"b","t":95,"s":0.48}]},"mark":{"type":"line","interpolate":"linear"},"encoding":{"x":{"field":"t","type":"quantitative","title":"p-value: 1.92972e-06","axis":{"titleFontWeight":"bold","titleFontStyle":"normal"}},"y":{"field":"s","type":"quantitative"},"color":{"field":"g"},"strokeDash":{"field":"g"}}},
{"title":{"text":"SPI1","fontWeight":"bold","fontStyle":"normal"},"data":{"values":[{"g":"a","t":0,"s":0.97},{"g":"a","t":8,"s":0.83},{"g":"a","t":16,"s":0.72},{"g":"a","t":23,"s":0.64},{"g":"a","t":30,"s":0.55},{"g":"a","t":38,"s":0.48},{"g":"a","t":49,"s":0.42},{"g":"a","t":60,"s":0.35},{"g":"a","t":71,"s":0.31},{"g":"a","t":78,"s":0.3},{"g":"a","t":78.5,"s":0.15},{"g":"a","t":97,"s":0.15},{"g":"b","t":0,"s":0.97},{"g":"b","t":12,"s":0.9},{"g":"b","t":23,"s":0.83},{"g":"b","t":34,"s":0.77},{"g":"b","t":45,"s":0.7},{"g":"b","t":56,"s":0.64},{"g":"b","t":67,"s":0.57},{"g":"b","t":75,"s":0.5},{"g":"b","t":79,"s":0.5},{"g":"b","t":80,"s":0.39},{"g":"b","t":97,"s":0.39}]},"mark":{"type":"line","interpolate":"linear"},"encoding":{"x":{"field":"t","type":"quantitative","title":"p-value: 2.09049e-06","axis":{"titleFontWeight":"bold","titleFontStyle":"normal"}},"y":{"field":"s","type":"quantitative"},"color":{"field":"g"},"strokeDash":{"field":"g"}}},
{"title":{"text":"USF1","fontWeight":"bold","fontStyle":"normal"},"data":{"values":[{"g":"a","t":0,"s":0.97},{"g":"a","t":8,"s":0.85},{"g":"a","t":19,"s":0.75},{"g":"a","t":30,"s":0.66},{"g":"a","t":41,"s":0.59},{"g":"a","t":53,"s":0.53},{"g":"a","t":64,"s":0.46},{"g":"a","t":71,"s":0.39},{"g":"a","t":78,"s":0.35},{"g":"a","t":80,"s":0.33},{"g":"a","t":82,"s":0.27},{"g":"a","t":96,"s":0.27},{"g":"b","t":0,"s":0.97},{"g":"b","t":12,"s":0.92},{"g":"b","t":23,"s":0.88},{"g":"b","t":34,"s":0.83},{"g":"b","t":45,"s":0.79},{"g":"b","t":56,"s":0.72},{"g":"b","t":67,"s":0.64},{"g":"b","t":77,"s":0.59},{"g":"b","t":78,"s":0.46},{"g":"b","t":96,"s":0.46}]},"mark":{"type":"line","interpolate":"linear"},"encoding":{"x":{"field":"t","type":"quantitative","title":"p-value: 8.99021e-06","axis":{"titleFontWeight":"bold","titleFontStyle":"normal"}},"y":{"field":"s","type":"quantitative"},"color":{"field":"g"},"strokeDash":{"field":"g"}}},
{"title":{"text":"MEF2C","fontWeight":"bold","fontStyle":"normal"},"data":{"values":[{"g":"a","t":0,"s":0.97},{"g":"a","t":12,"s":0.83},{"g":"a","t":23,"s":0.72},{"g":"a","t":34,"s":0.64},{"g":"a","t":46,"s":0.55},{"g":"a","t":57,"s":0.48},{"g":"a","t":68,"s":0.44},{"g":"a","t":79,"s":0.39},{"g":"a","t":80,"s":0.39},{"g":"a","t":81,"s":0.29},{"g":"a","t":97,"s":0.29},{"g":"b","t":0,"s":0.97},{"g":"b","t":12,"s":0.92},{"g":"b","t":23,"s":0.88},{"g":"b","t":34,"s":0.86},{"g":"b","t":46,"s":0.83},{"g":"b","t":57,"s":0.75},{"g":"b","t":64,"s":0.68},{"g":"b","t":67,"s":0.68},{"g":"b","t":68,"s":0.61},{"g":"b","t":97,"s":0.61}]},"mark":{"type":"line","interpolate":"linear"},"encoding":{"x":{"field":"t","type":"quantitative","title":"p-value: 1.84387e-05","axis":{"titleFontWeight":"bold","titleFontStyle":"normal"}},"y":{"field":"s","type":"quantitative"},"color":{"field":"g"},"strokeDash":{"field":"g"}}},

{"view":{"stroke":null},"width":1,"height":1,"data":{"values":[]},"mark":"point"},
{"title":{"text":"EGR1","fontWeight":"bold","fontStyle":"normal"},"data":{"values":[{"g":"a","t":0,"s":0.97},{"g":"a","t":12,"s":0.85},{"g":"a","t":23,"s":0.74},{"g":"a","t":34,"s":0.63},{"g":"a","t":45,"s":0.54},{"g":"a","t":56,"s":0.45},{"g":"a","t":67,"s":0.39},{"g":"a","t":75,"s":0.34},{"g":"a","t":80,"s":0.28},{"g":"a","t":97,"s":0.28},{"g":"b","t":0,"s":0.97},{"g":"b","t":12,"s":0.89},{"g":"b","t":23,"s":0.82},{"g":"b","t":34,"s":0.78},{"g":"b","t":45,"s":0.74},{"g":"b","t":56,"s":0.7},{"g":"b","t":64,"s":0.65},{"g":"b","t":71,"s":0.61},{"g":"b","t":75,"s":0.56},{"g":"b","t":77,"s":0.56},{"g":"b","t":78,"s":0.45},{"g":"b","t":96,"s":0.45}]},"mark":{"type":"line","interpolate":"linear"},"encoding":{"x":{"field":"t","type":"quantitative","title":"p-value: 2.10067e-05","axis":{"titleFontWeight":"bold","titleFontStyle":"normal"}},"y":{"field":"s","type":"quantitative"},"color":{"field":"g"},"strokeDash":{"field":"g"}}},
{"title":{"text":"YY1","fontWeight":"bold","fontStyle":"normal"},"data":{"values":[{"g":"a","t":0,"s":0.97},{"g":"a","t":12,"s":0.85},{"g":"a","t":23,"s":0.74},{"g":"a","t":34,"s":0.65},{"g":"a","t":45,"s":0.56},{"g":"a","t":56,"s":0.47},{"g":"a","t":67,"s":0.41},{"g":"a","t":75,"s":0.34},{"g":"a","t":80,"s":0.29},{"g":"a","t":96,"s":0.29},{"g":"b","t":0,"s":0.97},{"g":"b","t":12,"s":0.93},{"g":"b","t":23,"s":0.89},{"g":"b","t":30,"s":0.85},{"g":"b","t":38,"s":0.82},{"g":"b","t":45,"s":0.8},{"g":"b","t":96,"s":0.8}]},"mark":{"type":"line","interpolate":"linear"},"encoding":{"x":{"field":"t","type":"quantitative","title":"p-value: 3.34266e-05","axis":{"titleFontWeight":"bold","titleFontStyle":"normal"}},"y":{"field":"s","type":"quantitative"},"color":{"field":"g"},"strokeDash":{"field":"g"}}},
{"title":{"text":"ZEB1","fontWeight":"bold","fontStyle":"normal"},"data":{"values":[{"g":"a","t":0,"s":0.97},{"g":"a","t":12,"s":0.89},{"g":"a","t":23,"s":0.82},{"g":"a","t":34,"s":0.76},{"g":"a","t":45,"s":0.69},{"g":"a","t":56,"s":0.63},{"g":"a","t":67,"s":0.56},{"g":"a","t":75,"s":0.5},{"g":"a","t":79,"s":0.5},{"g":"a","t":80,"s":0.36},{"g":"a","t":96,"s":0.36},{"g":"b","t":0,"s":0.97},{"g":"b","t":4,"s":0.82},{"g":"b","t":12,"s":0.74},{"g":"b","t":23,"s":0.65},{"g":"b","t":34,"s":0.56},{"g":"b","t":45,"s":0.47},{"g":"b","t":53,"s":0.45},{"g":"b","t":56,"s":0.36},{"g":"b","t":64,"s":0.28},{"g":"b","t":78,"s":0.26}]},"mark":{"type":"line","interpolate":"linear"},"encoding":{"x":{"field":"t","type":"quantitative","title":"p-value: 5.97385e-05","axis":{"titleFontWeight":"bold","titleFontStyle":"normal"}},"y":{"field":"s","type":"quantitative"},"color":{"field":"g"},"strokeDash":{"field":"g"}}},
{"title":{"text":"ETS1","fontWeight":"bold","fontStyle":"normal"},"data":{"values":[{"g":"a","t":0,"s":0.97},{"g":"a","t":12,"s":0.85},{"g":"a","t":23,"s":0.74},{"g":"a","t":34,"s":0.65},{"g":"a","t":46,"s":0.55},{"g":"a","t":52,"s":0.43},{"g":"a","t":60,"s":0.36},{"g":"a","t":67,"s":0.3},{"g":"a","t":68,"s":0.25},{"g":"a","t":87,"s":0.25},{"g":"b","t":0,"s":0.97},{"g":"b","t":12,"s":0.89},{"g":"b","t":23,"s":0.85},{"g":"b","t":34,"s":0.8},{"g":"b","t":46,"s":0.73},{"g":"b","t":56,"s":0.65},{"g":"b","t":67,"s":0.61},{"g":"b","t":78,"s":0.52},{"g":"b","t":79,"s":0.52},{"g":"b","t":80,"s":0.36},{"g":"b","t":97,"s":0.36}]},"mark":{"type":"line","interpolate":"linear"},"encoding":{"x":{"field":"t","type":"quantitative","title":"p-value: 0.000242133","axis":{"titleFontWeight":"bold","titleFontStyle":"normal"}},"y":{"field":"s","type":"quantitative"},"color":{"field":"g"},"strokeDash":{"field":"g"}}},
{"title":{"text":"CTCF","fontWeight":"bold","fontStyle":"normal"},"data":{"values":[{"g":"a","t":0,"s":0.97},{"g":"a","t":12,"s":0.85},{"g":"a","t":23,"s":0.74},{"g":"a","t":34,"s":0.63},{"g":"a","t":45,"s":0.54},{"g":"a","t":56,"s":0.45},{"g":"a","t":67,"s":0.36},{"g":"a","t":75,"s":0.32},{"g":"a","t":88,"s":0.28},{"g":"b","t":0,"s":0.97},{"g":"b","t":12,"s":0.89},{"g":"b","t":23,"s":0.82},{"g":"b","t":34,"s":0.76},{"g":"b","t":45,"s":0.69},{"g":"b","t":56,"s":0.63},{"g":"b","t":67,"s":0.58},{"g":"b","t":75,"s":0.56},{"g":"b","t":80,"s":0.5},{"g":"b","t":81,"s":0.5},{"g":"b","t":82,"s":0.34},{"g":"b","t":97,"s":0.34}]},"mark":{"type":"line","interpolate":"linear"},"encoding":{"x":{"field":"t","type":"quantitative","title":"p-value: 0.000280997","axis":{"titleFontWeight":"bold","titleFontStyle":"normal"}},"y":{"field":"s","type":"quantitative"},"color":{"field":"g"},"strokeDash":{"field":"g"}}},
{"title":{"text":"MAX","fontWeight":"bold","fontStyle":"normal"},"data":{"values":[{"g":"a","t":0,"s":0.97},{"g":"a","t":12,"s":0.85},{"g":"a","t":23,"s":0.74},{"g":"a","t":34,"s":0.63},{"g":"a","t":45,"s":0.54},{"g":"a","t":56,"s":0.45},{"g":"a","t":67,"s":0.34},{"g":"a","t":74,"s":0.3},{"g":"a","t":75,"s":0.25},{"g":"a","t":85,"s":0.25},{"g":"b","t":0,"s":0.97},{"g":"b","t":12,"s":0.89},{"g":"b","t":23,"s":0.82},{"g":"b","t":34,"s":0.76},{"g":"b","t":45,"s":0.69},{"g":"b","t":56,"s":0.63},{"g":"b","t":67,"s":0.56},{"g":"b","t":75,"s":0.52},{"g":"b","t":79,"s":0.5},{"g":"b","t":80,"s":0.39},{"g":"b","t":97,"s":0.39}]},"mark":{"type":"line","interpolate":"linear"},"encoding":{"x":{"field":"t","type":"quantitative","title":"p-value: 0.000286817","axis":{"titleFontWeight":"bold","titleFontStyle":"normal"}},"y":{"field":"s","type":"quantitative"},"color":{"field":"g"},"strokeDash":{"field":"g"}}},
{"title":{"text":"FOSL1","fontWeight":"bold","fontStyle":"normal"},"data":{"values":[{"g":"a","t":0,"s":0.97},{"g":"a","t":12,"s":0.82},{"g":"a","t":23,"s":0.69},{"g":"a","t":34,"s":0.58},{"g":"a","t":45,"s":0.5},{"g":"a","t":56,"s":0.41},{"g":"a","t":64,"s":0.3},{"g":"a","t":73,"s":0.28},{"g":"a","t":74,"s":0.16},{"g":"a","t":82,"s":0.16},{"g":"b","t":0,"s":0.97},{"g":"b","t":12,"s":0.89},{"g":"b","t":23,"s":0.82},{"g":"b","t":34,"s":0.76},{"g":"b","t":45,"s":0.69},{"g":"b","t":56,"s":0.63},{"g":"b","t":67,"s":0.56},{"g":"b","t":77,"s":0.5},{"g":"b","t":79,"s":0.5},{"g":"b","t":80,"s":0.39},{"g":"b","t":96,"s":0.39}]},"mark":{"type":"line","interpolate":"linear"},"encoding":{"x":{"field":"t","type":"quantitative","title":"p-value: 0.000396099","axis":{"titleFontWeight":"bold","titleFontStyle":"normal"}},"y":{"field":"s","type":"quantitative"},"color":{"field":"g"},"strokeDash":{"field":"g"}}},
{"title":{"text":"JUND","fontWeight":"bold","fontStyle":"normal"},"data":{"values":[{"g":"a","t":0,"s":0.97},{"g":"a","t":12,"s":0.82},{"g":"a","t":23,"s":0.69},{"g":"a","t":34,"s":0.58},{"g":"a","t":46,"s":0.5},{"g":"a","t":57,"s":0.43},{"g":"a","t":68,"s":0.36},{"g":"a","t":75,"s":0.34},{"g":"a","t":83,"s":0.28},{"g":"a","t":97,"s":0.26},{"g":"b","t":0,"s":0.97},{"g":"b","t":12,"s":0.89},{"g":"b","t":23,"s":0.82},{"g":"b","t":34,"s":0.76},{"g":"b","t":46,"s":0.69},{"g":"b","t":57,"s":0.63},{"g":"b","t":68,"s":0.56},{"g":"b","t":75,"s":0.5},{"g":"b","t":78,"s":0.5},{"g":"b","t":79,"s":0.39},{"g":"b","t":97,"s":0.39}]},"mark":{"type":"line","interpolate":"linear"},"encoding":{"x":{"field":"t","type":"quantitative","title":"p-value: 0.0005622","axis":{"titleFontWeight":"bold","titleFontStyle":"normal"}},"y":{"field":"s","type":"quantitative"},"color":{"field":"g"},"strokeDash":{"field":"g"}}},

{"view":{"stroke":null},"width":1,"height":1,"data":{"values":[]},"mark":"point"},
{"title":"IRF4","data":{"values":[{"g":"a","t":0,"s":0.97},{"g":"a","t":8,"s":0.87},{"g":"a","t":16,"s":0.76},{"g":"a","t":27,"s":0.65},{"g":"a","t":34,"s":0.58},{"g":"a","t":41,"s":0.5},{"g":"a","t":53,"s":0.44},{"g":"a","t":64,"s":0.38},{"g":"a","t":71,"s":0.31},{"g":"a","t":74,"s":0.3},{"g":"a","t":75,"s":0.2},{"g":"a","t":78,"s":0.2},{"g":"b","t":0,"s":0.97},{"g":"b","t":12,"s":0.9},{"g":"b","t":23,"s":0.84},{"g":"b","t":34,"s":0.76},{"g":"b","t":45,"s":0.69},{"g":"b","t":56,"s":0.6},{"g":"b","t":64,"s":0.55},{"g":"b","t":70,"s":0.49},{"g":"b","t":75,"s":0.44},{"g":"b","t":77,"s":0.44},{"g":"b","t":78,"s":0.39},{"g":"b","t":97,"s":0.39}]},"mark":{"type":"line","interpolate":"linear"},"encoding":{"x":{"field":"t","type":"quantitative","title":"p-value: 0.000802979"},"y":{"field":"s","type":"quantitative"},"color":{"field":"g"},"strokeDash":{"field":"g"}}},
{"title":"HNF4G","data":{"values":[{"g":"a","t":0,"s":0.97},{"g":"a","t":8,"s":0.86},{"g":"a","t":19,"s":0.75},{"g":"a","t":30,"s":0.67},{"g":"a","t":41,"s":0.6},{"g":"a","t":53,"s":0.49},{"g":"a","t":64,"s":0.44},{"g":"a","t":75,"s":0.38},{"g":"a","t":80,"s":0.33},{"g":"a","t":81,"s":0.31},{"g":"a","t":82,"s":0.25},{"g":"a","t":96,"s":0.25},{"g":"b","t":0,"s":0.97},{"g":"b","t":12,"s":0.9},{"g":"b","t":23,"s":0.84},{"g":"b","t":34,"s":0.77},{"g":"b","t":45,"s":0.7},{"g":"b","t":56,"s":0.63},{"g":"b","t":60,"s":0.57},{"g":"b","t":67,"s":0.49},{"g":"b","t":75,"s":0.44},{"g":"b","t":77,"s":0.43},{"g":"b","t":78,"s":0.4},{"g":"b","t":96,"s":0.4}]},"mark":{"type":"line","interpolate":"linear"},"encoding":{"x":{"field":"t","type":"quantitative","title":"p-value: 0.000911417"},"y":{"field":"s","type":"quantitative"},"color":{"field":"g"},"strokeDash":{"field":"g"}}},
{"title":"RXRA::VDR","data":{"values":[{"g":"a","t":0,"s":0.97},{"g":"a","t":8,"s":0.86},{"g":"a","t":19,"s":0.73},{"g":"a","t":30,"s":0.64},{"g":"a","t":41,"s":0.57},{"g":"a","t":49,"s":0.53},{"g":"a","t":60,"s":0.49},{"g":"a","t":67,"s":0.44},{"g":"a","t":75,"s":0.35},{"g":"a","t":80,"s":0.31},{"g":"a","t":82,"s":0.28},{"g":"a","t":96,"s":0.28},{"g":"b","t":0,"s":0.97},{"g":"b","t":12,"s":0.9},{"g":"b","t":23,"s":0.84},{"g":"b","t":34,"s":0.77},{"g":"b","t":45,"s":0.68},{"g":"b","t":60,"s":0.55},{"g":"b","t":67,"s":0.51},{"g":"b","t":71,"s":0.44},{"g":"b","t":77,"s":0.42},{"g":"b","t":78,"s":0.39},{"g":"b","t":96,"s":0.39}]},"mark":{"type":"line","interpolate":"linear"},"encoding":{"x":{"field":"t","type":"quantitative","title":"p-value: 0.00158299"},"y":{"field":"s","type":"quantitative"},"color":{"field":"g"},"strokeDash":{"field":"g"}}},
{"title":"ELF1","data":{"values":[{"g":"a","t":0,"s":0.97},{"g":"a","t":8,"s":0.86},{"g":"a","t":19,"s":0.75},{"g":"a","t":30,"s":0.65},{"g":"a","t":42,"s":0.56},{"g":"a","t":45,"s":0.53},{"g":"a","t":49,"s":0.49},{"g":"a","t":56,"s":0.42},{"g":"a","t":63,"s":0.38},{"g":"a","t":74,"s":0.36},{"g":"a","t":77,"s":0.36},{"g":"a","t":78,"s":0.31},{"g":"a","t":97,"s":0.31},{"g":"b","t":0,"s":0.97},{"g":"b","t":12,"s":0.9},{"g":"b","t":23,"s":0.84},{"g":"b","t":34,"s":0.78},{"g":"b","t":45,"s":0.72},{"g":"b","t":56,"s":0.66},{"g":"b","t":67,"s":0.57},{"g":"b","t":74,"s":0.55},{"g":"b","t":79,"s":0.5},{"g":"b","t":80,"s":0.46},{"g":"b","t":81,"s":0.4},{"g":"b","t":97,"s":0.4}]},"mark":{"type":"line","interpolate":"linear"},"encoding":{"x":{"field":"t","type":"quantitative","title":"p-value: 0.00159433"},"y":{"field":"s","type":"quantitative"},"color":{"field":"g"},"strokeDash":{"field":"g"}}},
{"title":"PBX3","data":{"values":[{"g":"a","t":0,"s":0.97},{"g":"a","t":8,"s":0.86},{"g":"a","t":19,"s":0.75},{"g":"a","t":30,"s":0.68},{"g":"a","t":42,"s":0.62},{"g":"a","t":50,"s":0.57},{"g":"a","t":53,"s":0.52},{"g":"a","t":56,"s":0.49},{"g":"a","t":60,"s":0.44},{"g":"a","t":64,"s":0.38},{"g":"a","t":67,"s":0.36},{"g":"a","t":80,"s":0.36},{"g":"b","t":0,"s":0.97},{"g":"b","t":12,"s":0.9},{"g":"b","t":23,"s":0.84},{"g":"b","t":34,"s":0.77},{"g":"b","t":45,"s":0.71},{"g":"b","t":56,"s":0.64},{"g":"b","t":67,"s":0.51},{"g":"b","t":75,"s":0.46},{"g":"b","t":78,"s":0.42},{"g":"b","t":79,"s":0.42},{"g":"b","t":80,"s":0.37},{"g":"b","t":97,"s":0.37}]},"mark":{"type":"line","interpolate":"linear"},"encoding":{"x":{"field":"t","type":"quantitative","title":"p-value: 0.00198271"},"y":{"field":"s","type":"quantitative"},"color":{"field":"g"},"strokeDash":{"field":"g"}}},
{"title":"JUNB","data":{"values":[{"g":"a","t":0,"s":0.97},{"g":"a","t":8,"s":0.84},{"g":"a","t":17,"s":0.73},{"g":"a","t":28,"s":0.64},{"g":"a","t":38,"s":0.57},{"g":"a","t":45,"s":0.51},{"g":"a","t":56,"s":0.44},{"g":"a","t":67,"s":0.4},{"g":"a","t":70,"s":0.4},{"g":"a","t":71,"s":0.36},{"g":"a","t":84,"s":0.36},{"g":"b","t":0,"s":0.97},{"g":"b","t":12,"s":0.9},{"g":"b","t":23,"s":0.84},{"g":"b","t":34,"s":0.77},{"g":"b","t":45,"s":0.71},{"g":"b","t":56,"s":0.64},{"g":"b","t":67,"s":0.53},{"g":"b","t":75,"s":0.49},{"g":"b","t":77,"s":0.49},{"g":"b","t":78,"s":0.36},{"g":"b","t":97,"s":0.36}]},"mark":{"type":"line","interpolate":"linear"},"encoding":{"x":{"field":"t","type":"quantitative","title":"p-value: 0.00204717"},"y":{"field":"s","type":"quantitative"},"color":{"field":"g"},"strokeDash":{"field":"g"}}},
{"title":"NR2C2","data":{"values":[{"g":"a","t":0,"s":0.97},{"g":"a","t":8,"s":0.86},{"g":"a","t":19,"s":0.75},{"g":"a","t":30,"s":0.66},{"g":"a","t":41,"s":0.6},{"g":"a","t":49,"s":0.51},{"g":"a","t":56,"s":0.44},{"g":"a","t":67,"s":0.36},{"g":"a","t":82,"s":0.36},{"g":"b","t":0,"s":0.97},{"g":"b","t":12,"s":0.92},{"g":"b","t":23,"s":0.86},{"g":"b","t":34,"s":0.77},{"g":"b","t":45,"s":0.71},{"g":"b","t":56,"s":0.64},{"g":"b","t":71,"s":0.55},{"g":"b","t":75,"s":0.46},{"g":"b","t":78,"s":0.36},{"g":"b","t":80,"s":0.33},{"g":"b","t":96,"s":0.33}]},"mark":{"type":"line","interpolate":"linear"},"encoding":{"x":{"field":"t","type":"quantitative","title":"p-value: 0.00215925"},"y":{"field":"s","type":"quantitative"},"color":{"field":"g"},"strokeDash":{"field":"g"}}},
{"title":"PAX5","data":{"values":[{"g":"a","t":0,"s":0.97},{"g":"a","t":9,"s":0.84},{"g":"a","t":20,"s":0.75},{"g":"a","t":31,"s":0.68},{"g":"a","t":42,"s":0.62},{"g":"a","t":46,"s":0.55},{"g":"a","t":53,"s":0.49},{"g":"a","t":68,"s":0.42},{"g":"a","t":79,"s":0.31},{"g":"a","t":90,"s":0.26},{"g":"a","t":91,"s":0.24},{"g":"a","t":97,"s":0.24},{"g":"b","t":0,"s":0.97},{"g":"b","t":12,"s":0.9},{"g":"b","t":23,"s":0.84},{"g":"b","t":34,"s":0.77},{"g":"b","t":46,"s":0.68},{"g":"b","t":57,"s":0.62},{"g":"b","t":68,"s":0.55},{"g":"b","t":75,"s":0.53},{"g":"b","t":79,"s":0.46},{"g":"b","t":83,"s":0.44},{"g":"b","t":97,"s":0.44}]},"mark":{"type":"line","interpolate":"linear"},"encoding":{"x":{"field":"t","type":"quantitative","title":"p-value: 0.00315687"},"y":{"field":"s","type":"quantitative"},"color":{"field":"g"},"strokeDash":{"field":"g"}}},

{"view":{"stroke":null},"width":1,"height":1,"data":{"values":[]},"mark":"point"},
{"title":"MYC","data":{"values":[{"g":"a","t":0,"s":0.97},{"g":"a","t":8,"s":0.88},{"g":"a","t":16,"s":0.79},{"g":"a","t":19,"s":0.72},{"g":"a","t":25,"s":0.63},{"g":"a","t":34,"s":0.54},{"g":"a","t":45,"s":0.5},{"g":"a","t":56,"s":0.46},{"g":"a","t":60,"s":0.41},{"g":"a","t":64,"s":0.32},{"g":"a","t":66,"s":0.26},{"g":"a","t":79,"s":0.26},{"g":"b","t":0,"s":0.97},{"g":"b","t":12,"s":0.87},{"g":"b","t":23,"s":0.81},{"g":"b","t":34,"s":0.74},{"g":"b","t":45,"s":0.68},{"g":"b","t":56,"s":0.61},{"g":"b","t":67,"s":0.54},{"g":"b","t":75,"s":0.5},{"g":"b","t":77,"s":0.45},{"g":"b","t":78,"s":0.37},{"g":"b","t":97,"s":0.37}]},"mark":{"type":"line","interpolate":"linear"},"encoding":{"x":{"field":"t","type":"quantitative","title":"p-value: 0.00405561"},"y":{"field":"s","type":"quantitative"},"color":{"field":"g"},"strokeDash":{"field":"g"}}},
{"title":"FOS","data":{"values":[{"g":"a","t":0,"s":0.97},{"g":"a","t":12,"s":0.85},{"g":"a","t":23,"s":0.74},{"g":"a","t":34,"s":0.65},{"g":"a","t":45,"s":0.57},{"g":"a","t":56,"s":0.5},{"g":"a","t":67,"s":0.43},{"g":"a","t":75,"s":0.39},{"g":"a","t":80,"s":0.3},{"g":"a","t":82,"s":0.26},{"g":"a","t":84,"s":0.26},{"g":"b","t":0,"s":0.97},{"g":"b","t":12,"s":0.89},{"g":"b","t":23,"s":0.81},{"g":"b","t":34,"s":0.74},{"g":"b","t":45,"s":0.65},{"g":"b","t":56,"s":0.59},{"g":"b","t":67,"s":0.54},{"g":"b","t":76,"s":0.5},{"g":"b","t":77,"s":0.5},{"g":"b","t":78,"s":0.45},{"g":"b","t":96,"s":0.45}]},"mark":{"type":"line","interpolate":"linear"},"encoding":{"x":{"field":"t","type":"quantitative","title":"p-value: 0.00545171"},"y":{"field":"s","type":"quantitative"},"color":{"field":"g"},"strokeDash":{"field":"g"}}},
{"title":"E2F6","data":{"values":[{"g":"a","t":0,"s":0.97},{"g":"a","t":12,"s":0.85},{"g":"a","t":23,"s":0.74},{"g":"a","t":34,"s":0.65},{"g":"a","t":45,"s":0.57},{"g":"a","t":56,"s":0.48},{"g":"a","t":67,"s":0.41},{"g":"a","t":75,"s":0.34},{"g":"a","t":78,"s":0.32},{"g":"a","t":96,"s":0.3},{"g":"b","t":0,"s":0.97},{"g":"b","t":12,"s":0.89},{"g":"b","t":23,"s":0.81},{"g":"b","t":34,"s":0.74},{"g":"b","t":45,"s":0.7},{"g":"b","t":56,"s":0.68},{"g":"b","t":77,"s":0.68},{"g":"b","t":78,"s":0.35},{"g":"b","t":96,"s":0.35}]},"mark":{"type":"line","interpolate":"linear"},"encoding":{"x":{"field":"t","type":"quantitative","title":"p-value: 0.00626335"},"y":{"field":"s","type":"quantitative"},"color":{"field":"g"},"strokeDash":{"field":"g"}}},
{"title":"RXR::RAR_DR5","data":{"values":[{"g":"a","t":0,"s":0.97},{"g":"a","t":12,"s":0.85},{"g":"a","t":23,"s":0.76},{"g":"a","t":34,"s":0.7},{"g":"a","t":45,"s":0.59},{"g":"a","t":56,"s":0.5},{"g":"a","t":67,"s":0.41},{"g":"a","t":78,"s":0.37},{"g":"a","t":80,"s":0.3},{"g":"a","t":97,"s":0.3},{"g":"b","t":0,"s":0.97},{"g":"b","t":12,"s":0.89},{"g":"b","t":23,"s":0.83},{"g":"b","t":34,"s":0.76},{"g":"b","t":45,"s":0.68},{"g":"b","t":56,"s":0.63},{"g":"b","t":59,"s":0.57},{"g":"b","t":78,"s":0.57},{"g":"b","t":79,"s":0.41},{"g":"b","t":97,"s":0.41}]},"mark":{"type":"line","interpolate":"linear"},"encoding":{"x":{"field":"t","type":"quantitative","title":"p-value: 0.00711851"},"y":{"field":"s","type":"quantitative"},"color":{"field":"g"},"strokeDash":{"field":"g"}}},
{"title":"ZNF263","data":{"values":[{"g":"a","t":0,"s":0.97},{"g":"a","t":4,"s":0.87},{"g":"a","t":10,"s":0.79},{"g":"a","t":17,"s":0.7},{"g":"a","t":27,"s":0.63},{"g":"a","t":38,"s":0.57},{"g":"a","t":45,"s":0.54},{"g":"a","t":55,"s":0.52},{"g":"a","t":56,"s":0.39},{"g":"a","t":78,"s":0.39},{"g":"b","t":0,"s":0.97},{"g":"b","t":12,"s":0.87},{"g":"b","t":23,"s":0.81},{"g":"b","t":34,"s":0.74},{"g":"b","t":45,"s":0.68},{"g":"b","t":56,"s":0.59},{"g":"b","t":67,"s":0.52},{"g":"b","t":76,"s":0.46},{"g":"b","t":79,"s":0.45},{"g":"b","t":80,"s":0.37},{"g":"b","t":97,"s":0.37}]},"mark":{"type":"line","interpolate":"linear"},"encoding":{"x":{"field":"t","type":"quantitative","title":"p-value: 0.00801888"},"y":{"field":"s","type":"quantitative"},"color":{"field":"g"},"strokeDash":{"field":"g"}}},
{"title":"ZBTB33","data":{"values":[{"g":"a","t":0,"s":0.97},{"g":"a","t":12,"s":0.87},{"g":"a","t":23,"s":0.79},{"g":"a","t":34,"s":0.7},{"g":"a","t":45,"s":0.61},{"g":"a","t":56,"s":0.54},{"g":"a","t":67,"s":0.48},{"g":"a","t":78,"s":0.41},{"g":"a","t":79,"s":0.4},{"g":"a","t":80,"s":0.32},{"g":"a","t":96,"s":0.32},{"g":"b","t":0,"s":0.97},{"g":"b","t":2,"s":0.93},{"g":"b","t":74,"s":0.93}]},"mark":{"type":"line","interpolate":"linear"},"encoding":{"x":{"field":"t","type":"quantitative","title":"p-value: 0.0084004"},"y":{"field":"s","type":"quantitative"},"color":{"field":"g"},"strokeDash":{"field":"g"}}},
{"title":"SP2","data":{"values":[{"g":"a","t":0,"s":0.97},{"g":"a","t":12,"s":0.85},{"g":"a","t":23,"s":0.76},{"g":"a","t":34,"s":0.7},{"g":"a","t":45,"s":0.63},{"g":"a","t":56,"s":0.57},{"g":"a","t":67,"s":0.5},{"g":"a","t":75,"s":0.43},{"g":"a","t":78,"s":0.32},{"g":"a","t":96,"s":0.3},{"g":"b","t":0,"s":0.97},{"g":"b","t":12,"s":0.89},{"g":"b","t":23,"s":0.85},{"g":"b","t":34,"s":0.79},{"g":"b","t":43,"s":0.74},{"g":"b","t":52,"s":0.65},{"g":"b","t":77,"s":0.64},{"g":"b","t":78,"s":0.43},{"g":"b","t":96,"s":0.43}]},"mark":{"type":"line","interpolate":"linear"},"encoding":{"x":{"field":"t","type":"quantitative","title":"p-value: 0.00902423"},"y":{"field":"s","type":"quantitative"},"color":{"field":"g"},"strokeDash":{"field":"g"}}},
{"title":"CTCFL","data":{"values":[{"g":"a","t":0,"s":0.97},{"g":"a","t":8,"s":0.87},{"g":"a","t":20,"s":0.76},{"g":"a","t":31,"s":0.65},{"g":"a","t":42,"s":0.59},{"g":"a","t":49,"s":0.5},{"g":"a","t":57,"s":0.43},{"g":"a","t":63,"s":0.4},{"g":"a","t":64,"s":0.32},{"g":"a","t":83,"s":0.32},{"g":"b","t":0,"s":0.97},{"g":"b","t":12,"s":0.89},{"g":"b","t":23,"s":0.83},{"g":"b","t":34,"s":0.76},{"g":"b","t":46,"s":0.68},{"g":"b","t":57,"s":0.61},{"g":"b","t":68,"s":0.54},{"g":"b","t":75,"s":0.5},{"g":"b","t":80,"s":0.48},{"g":"b","t":81,"s":0.37},{"g":"b","t":97,"s":0.37}]},"mark":{"type":"line","interpolate":"linear"},"encoding":{"x":{"field":"t","type":"quantitative","title":"p-value: 0.00925749"},"y":{"field":"s","type":"quantitative"},"color":{"field":"g"},"strokeDash":{"field":"g"}}},

{"view":{"stroke":null},"width":1,"height":1,"data":{"values":[]},"mark":"point"},
{"title":"SP1","data":{"values":[{"g":"a","t":0,"s":0.97},{"g":"a","t":12,"s":0.89},{"g":"a","t":23,"s":0.8},{"g":"a","t":34,"s":0.71},{"g":"a","t":45,"s":0.64},{"g":"a","t":56,"s":0.56},{"g":"a","t":67,"s":0.47},{"g":"a","t":75,"s":0.4},{"g":"a","t":78,"s":0.35},{"g":"a","t":80,"s":0.29},{"g":"a","t":97,"s":0.29},{"g":"b","t":0,"s":0.97},{"g":"b","t":8,"s":0.91},{"g":"b","t":19,"s":0.89},{"g":"b","t":34,"s":0.84},{"g":"b","t":45,"s":0.8},{"g":"b","t":48,"s":0.8},{"g":"b","t":49,"s":0.69},{"g":"b","t":56,"s":0.67},{"g":"b","t":97,"s":0.66}]},"mark":{"type":"line","interpolate":"linear"},"encoding":{"x":{"field":"t","type":"quantitative","title":"p-value: 0.0121442"},"y":{"field":"s","type":"quantitative"},"color":{"field":"g"},"strokeDash":{"field":"g"}}},
{"title":"TCF12","data":{"values":[{"g":"a","t":0,"s":0.97},{"g":"a","t":12,"s":0.88},{"g":"a","t":23,"s":0.78},{"g":"a","t":34,"s":0.69},{"g":"a","t":45,"s":0.58},{"g":"a","t":56,"s":0.49},{"g":"a","t":67,"s":0.43},{"g":"a","t":75,"s":0.36},{"g":"a","t":78,"s":0.29},{"g":"a","t":96,"s":0.29},{"g":"b","t":0,"s":0.97},{"g":"b","t":12,"s":0.89},{"g":"b","t":23,"s":0.82},{"g":"b","t":34,"s":0.75},{"g":"b","t":45,"s":0.69},{"g":"b","t":56,"s":0.62},{"g":"b","t":67,"s":0.56},{"g":"b","t":78,"s":0.51},{"g":"b","t":79,"s":0.5},{"g":"b","t":80,"s":0.39},{"g":"b","t":96,"s":0.39}]},"mark":{"type":"line","interpolate":"linear"},"encoding":{"x":{"field":"t","type":"quantitative","title":"p-value: 0.0190257"},"y":{"field":"s","type":"quantitative"},"color":{"field":"g"},"strokeDash":{"field":"g"}}},
{"title":"FOXA2","data":{"values":[{"g":"a","t":0,"s":0.97},{"g":"a","t":12,"s":0.89},{"g":"a","t":23,"s":0.8},{"g":"a","t":34,"s":0.71},{"g":"a","t":45,"s":0.64},{"g":"a","t":56,"s":0.58},{"g":"a","t":67,"s":0.51},{"g":"a","t":75,"s":0.47},{"g":"a","t":77,"s":0.45},{"g":"a","t":78,"s":0.36},{"g":"a","t":96,"s":0.36},{"g":"b","t":0,"s":0.97},{"g":"b","t":6,"s":0.86},{"g":"b","t":16,"s":0.8},{"g":"b","t":27,"s":0.62},{"g":"b","t":38,"s":0.56},{"g":"b","t":49,"s":0.49},{"g":"b","t":56,"s":0.4},{"g":"b","t":64,"s":0.34},{"g":"b","t":78,"s":0.34}]},"mark":{"type":"line","interpolate":"linear"},"encoding":{"x":{"field":"t","type":"quantitative","title":"p-value: 0.0215194"},"y":{"field":"s","type":"quantitative"},"color":{"field":"g"},"strokeDash":{"field":"g"}}},
{"title":"E2F4","data":{"values":[{"g":"a","t":0,"s":0.97},{"g":"a","t":12,"s":0.89},{"g":"a","t":23,"s":0.8},{"g":"a","t":34,"s":0.73},{"g":"a","t":46,"s":0.62},{"g":"a","t":56,"s":0.54},{"g":"a","t":67,"s":0.43},{"g":"a","t":78,"s":0.37},{"g":"a","t":80,"s":0.32},{"g":"a","t":97,"s":0.32},{"g":"b","t":0,"s":0.97},{"g":"b","t":12,"s":0.91},{"g":"b","t":23,"s":0.86},{"g":"b","t":34,"s":0.8},{"g":"b","t":46,"s":0.72},{"g":"b","t":56,"s":0.67},{"g":"b","t":60,"s":0.6},{"g":"b","t":62,"s":0.54},{"g":"b","t":78,"s":0.49},{"g":"b","t":79,"s":0.49},{"g":"b","t":80,"s":0.36},{"g":"b","t":97,"s":0.36}]},"mark":{"type":"line","interpolate":"linear"},"encoding":{"x":{"field":"t","type":"quantitative","title":"p-value: 0.0253689"},"y":{"field":"s","type":"quantitative"},"color":{"field":"g"},"strokeDash":{"field":"g"}}},
{"title":"MYC::MAX","data":{"values":[{"g":"a","t":0,"s":0.97},{"g":"a","t":12,"s":0.88},{"g":"a","t":23,"s":0.78},{"g":"a","t":34,"s":0.69},{"g":"a","t":45,"s":0.62},{"g":"a","t":56,"s":0.56},{"g":"a","t":64,"s":0.45},{"g":"a","t":75,"s":0.38},{"g":"a","t":79,"s":0.38},{"g":"a","t":80,"s":0.29},{"g":"a","t":88,"s":0.29},{"g":"b","t":0,"s":0.97},{"g":"b","t":12,"s":0.89},{"g":"b","t":23,"s":0.82},{"g":"b","t":34,"s":0.75},{"g":"b","t":45,"s":0.69},{"g":"b","t":56,"s":0.62},{"g":"b","t":67,"s":0.54},{"g":"b","t":76,"s":0.47},{"g":"b","t":78,"s":0.38},{"g":"b","t":97,"s":0.38}]},"mark":{"type":"line","interpolate":"linear"},"encoding":{"x":{"field":"t","type":"quantitative","title":"p-value: 0.0410002"},"y":{"field":"s","type":"quantitative"},"color":{"field":"g"},"strokeDash":{"field":"g"}}},
{"title":"REST","data":{"values":[{"g":"a","t":0,"s":0.97},{"g":"a","t":6,"s":0.84},{"g":"a","t":14,"s":0.73},{"g":"a","t":23,"s":0.64},{"g":"a","t":34,"s":0.56},{"g":"a","t":45,"s":0.49},{"g":"a","t":60,"s":0.47},{"g":"a","t":71,"s":0.45},{"g":"a","t":74,"s":0.45},{"g":"a","t":75,"s":0.38},{"g":"a","t":82,"s":0.36},{"g":"b","t":0,"s":0.97},{"g":"b","t":12,"s":0.89},{"g":"b","t":23,"s":0.82},{"g":"b","t":34,"s":0.75},{"g":"b","t":45,"s":0.69},{"g":"b","t":56,"s":0.62},{"g":"b","t":67,"s":0.54},{"g":"b","t":75,"s":0.47},{"g":"b","t":78,"s":0.45},{"g":"b","t":80,"s":0.34},{"g":"b","t":96,"s":0.34}]},"mark":{"type":"line","interpolate":"linear"},"encoding":{"x":{"field":"t","type":"quantitative","title":"p-value: 0.0488188"},"y":{"field":"s","type":"quantitative"},"color":{"field":"g"},"strokeDash":{"field":"g"}}},
{"view":{"stroke":null},"width":1,"height":1,"data":{"values":[]},"mark":"point"},
{"view":{"stroke":null},"width":1,"height":1,"data":{"values":[]},"mark":"point"},

{"view":{"stroke":null},"width":84,"height":77,"data":{"values":[{}]},"mark":{"type":"text","text":"KIRP","fontSize":23,"dx":-2}},
{"title":"RXRA","data":{"values":[{"g":"a","t":0,"s":0.97},{"g":"a","t":4,"s":0.95},{"g":"a","t":8,"s":0.9},{"g":"a","t":14,"s":0.86},{"g":"a","t":19,"s":0.84},{"g":"a","t":23,"s":0.79},{"g":"a","t":26,"s":0.72},{"g":"a","t":96,"s":0.72},{"g":"b","t":0,"s":0.97},{"g":"b","t":4,"s":0.9},{"g":"b","t":10,"s":0.86},{"g":"b","t":16,"s":0.84},{"g":"b","t":23,"s":0.74},{"g":"b","t":25,"s":0.65},{"g":"b","t":32,"s":0.6},{"g":"b","t":36,"s":0.54},{"g":"b","t":42,"s":0.52},{"g":"b","t":46,"s":0.04}]},"mark":"line","encoding":{"x":{"field":"t","type":"quantitative","title":"p-value: 0.0372079"},"y":{"field":"s","type":"quantitative"},"color":{"field":"g"},"strokeDash":{"field":"g"}}},
{"view":{"stroke":null},"width":1,"height":1,"data":{"values":[]},"mark":"point"},
{"view":{"stroke":null},"width":1,"height":1,"data":{"values":[]},"mark":"point"},
{"view":{"stroke":null},"width":1,"height":1,"data":{"values":[]},"mark":"point"},
{"view":{"stroke":null},"width":1,"height":1,"data":{"values":[]},"mark":"point"},
{"view":{"stroke":null},"width":1,"height":1,"data":{"values":[]},"mark":"point"},
{"view":{"stroke":null},"width":1,"height":1,"data":{"values":[]},"mark":"point"},
{"view":{"stroke":null},"width":1,"height":1,"data":{"values":[]},"mark":"point"},

{"view":{"stroke":null},"width":84,"height":77,"data":{"values":[{}]},"mark":{"type":"text","text":"LIHC","fontSize":23,"dx":-2}},
{"title":"EGR1","data":{"values":[{"g":"a","t":0,"s":0.97},{"g":"a","t":4,"s":0.93},{"g":"a","t":8,"s":0.87},{"g":"a","t":14,"s":0.8},{"g":"a","t":19,"s":0.69},{"g":"a","t":27,"s":0.63},{"g":"a","t":34,"s":0.56},{"g":"a","t":41,"s":0.52},{"g":"a","t":49,"s":0.45},{"g":"a","t":56,"s":0.41},{"g":"a","t":64,"s":0.32},{"g":"a","t":71,"s":0.25},{"g":"a","t":75,"s":0.21},{"g":"a","t":93,"s":0.12},{"g":"a","t":96,"s":0.04},{"g":"b","t":0,"s":0.97},{"g":"b","t":4,"s":0.91},{"g":"b","t":12,"s":0.85},{"g":"b","t":19,"s":0.78},{"g":"b","t":27,"s":0.74},{"g":"b","t":34,"s":0.71},{"g":"b","t":41,"s":0.63},{"g":"b","t":91,"s":0.63}]},"mark":"line","encoding":{"x":{"field":"t","type":"quantitative","title":"p-value: 0.0129996"},"y":{"field":"s","type":"quantitative"},"color":{"field":"g"},"strokeDash":{"field":"g"}}},
{"view":{"stroke":null},"width":1,"height":1,"data":{"values":[]},"mark":"point"},
{"view":{"stroke":null},"width":1,"height":1,"data":{"values":[]},"mark":"point"},
{"view":{"stroke":null},"width":1,"height":1,"data":{"values":[]},"mark":"point"},
{"view":{"stroke":null},"width":1,"height":1,"data":{"values":[]},"mark":"point"},
{"view":{"stroke":null},"width":1,"height":1,"data":{"values":[]},"mark":"point"},
{"view":{"stroke":null},"width":1,"height":1,"data":{"values":[]},"mark":"point"},
{"view":{"stroke":null},"width":1,"height":1,"data":{"values":[]},"mark":"point"},

{"view":{"stroke":null},"width":84,"height":77,"data":{"values":[{}]},"mark":{"type":"text","text":"LUAD","fontSize":23,"dx":-2}},
{"title":"MEF2C","data":{"values":[{"g":"a","t":0,"s":0.97},{"g":"a","t":4,"s":0.86},{"g":"a","t":10,"s":0.68},{"g":"a","t":16,"s":0.55},{"g":"a","t":23,"s":0.42},{"g":"a","t":30,"s":0.33},{"g":"a","t":38,"s":0.29},{"g":"a","t":45,"s":0.22},{"g":"a","t":53,"s":0.18},{"g":"a","t":67,"s":0.15},{"g":"a","t":71,"s":0.11},{"g":"a","t":97,"s":0.11},{"g":"b","t":0,"s":0.97},{"g":"b","t":1,"s":0.03}]},"mark":"line","encoding":{"x":{"field":"t","type":"quantitative","title":"p-value: 0.000982058"},"y":{"field":"s","type":"quantitative"},"color":{"field":"g"},"strokeDash":{"field":"g"}}},
{"title":"JUND","data":{"values":[{"g":"a","t":0,"s":0.97},{"g":"a","t":4,"s":0.86},{"g":"a","t":10,"s":0.7},{"g":"a","t":16,"s":0.55},{"g":"a","t":23,"s":0.42},{"g":"a","t":43,"s":0.32},{"g":"a","t":96,"s":0.32},{"g":"b","t":0,"s":0.97},{"g":"b","t":4,"s":0.82},{"g":"b","t":10,"s":0.64},{"g":"b","t":16,"s":0.46},{"g":"b","t":23,"s":0.33},{"g":"b","t":30,"s":0.25},{"g":"b","t":38,"s":0.18},{"g":"b","t":45,"s":0.11},{"g":"b","t":56,"s":0.09},{"g":"b","t":67,"s":0.08},{"g":"b","t":70,"s":0.05}]},"mark":"line","encoding":{"x":{"field":"t","type":"quantitative","title":"p-value: 0.00948775"},"y":{"field":"s","type":"quantitative"},"color":{"field":"g"},"strokeDash":{"field":"g"}}},
{"title":"TAL1::GATA1","data":{"values":[{"g":"a","t":0,"s":0.97},{"g":"a","t":4,"s":0.86},{"g":"a","t":10,"s":0.68},{"g":"a","t":16,"s":0.55},{"g":"a","t":21,"s":0.44},{"g":"a","t":27,"s":0.38},{"g":"a","t":34,"s":0.33},{"g":"a","t":45,"s":0.27},{"g":"a","t":56,"s":0.22},{"g":"a","t":67,"s":0.2},{"g":"a","t":71,"s":0.17},{"g":"a","t":96,"s":0.17},{"g":"b","t":0,"s":0.97},{"g":"b","t":4,"s":0.82},{"g":"b","t":10,"s":0.6},{"g":"b","t":16,"s":0.46},{"g":"b","t":21,"s":0.38},{"g":"b","t":27,"s":0.31},{"g":"b","t":34,"s":0.25},{"g":"b","t":41,"s":0.18},{"g":"b","t":49,"s":0.14},{"g":"b","t":56,"s":0.11},{"g":"b","t":67,"s":0.09},{"g":"b","t":68,"s":0.05}]},"mark":"line","encoding":{"x":{"field":"t","type":"quantitative","title":"p-value: 0.0206886"},"y":{"field":"s","type":"quantitative"},"color":{"field":"g"},"strokeDash":{"field":"g"}}},
{"title":"TCF12","data":{"values":[{"g":"a","t":0,"s":0.97},{"g":"a","t":4,"s":0.88},{"g":"a","t":10,"s":0.75},{"g":"a","t":16,"s":0.6},{"g":"a","t":23,"s":0.46},{"g":"a","t":30,"s":0.38},{"g":"a","t":38,"s":0.31},{"g":"a","t":45,"s":0.25},{"g":"a","t":48,"s":0.18},{"g":"a","t":69,"s":0.14},{"g":"a","t":97,"s":0.12},{"g":"b","t":0,"s":0.97},{"g":"b","t":6,"s":0.82},{"g":"b","t":12,"s":0.68},{"g":"b","t":14,"s":0.38},{"g":"b","t":19,"s":0.2},{"g":"b","t":23,"s":0.14},{"g":"b","t":38,"s":0.14}]},"mark":"line","encoding":{"x":{"field":"t","type":"quantitative","title":"p-value: 0.037926"},"y":{"field":"s","type":"quantitative"},"color":{"field":"g"},"strokeDash":{"field":"g"}}},
{"view":{"stroke":null},"width":1,"height":1,"data":{"values":[]},"mark":"point"},
{"view":{"stroke":null},"width":1,"height":1,"data":{"values":[]},"mark":"point"},
{"view":{"stroke":null},"width":1,"height":1,"data":{"values":[]},"mark":"point"},
{"view":{"stroke":null},"width":1,"height":1,"data":{"values":[]},"mark":"point"},

{"view":{"stroke":null},"width":84,"height":77,"data":{"values":[{}]},"mark":{"type":"text","text":"LUSC","fontSize":23,"dx":-2}},
{"title":"REST","data":{"values":[{"g":"a","t":0,"s":0.97},{"g":"a","t":3,"s":0.84},{"g":"a","t":6,"s":0.71},{"g":"a","t":12,"s":0.6},{"g":"a","t":19,"s":0.54},{"g":"a","t":27,"s":0.47},{"g":"a","t":34,"s":0.4},{"g":"a","t":41,"s":0.34},{"g":"a","t":49,"s":0.27},{"g":"a","t":56,"s":0.23},{"g":"a","t":64,"s":0.18},{"g":"a","t":69,"s":0.14},{"g":"a","t":71,"s":0.08},{"g":"a","t":78,"s":0.05},{"g":"b","t":0,"s":0.97},{"g":"b","t":8,"s":0.84},{"g":"b","t":19,"s":0.71},{"g":"b","t":30,"s":0.58},{"g":"b","t":41,"s":0.45},{"g":"b","t":53,"s":0.32},{"g":"b","t":64,"s":0.23},{"g":"b","t":71,"s":0.14},{"g":"b","t":78,"s":0.12},{"g":"b","t":97,"s":0.03}]},"mark":"line","encoding":{"x":{"field":"t","type":"quantitative","title":"p-value: 0.0149819"},"y":{"field":"s","type":"quantitative"},"color":{"field":"g"},"strokeDash":{"field":"g"}}},
{"title":"FOS","data":{"values":[{"g":"a","t":0,"s":0.97},{"g":"a","t":8,"s":0.84},{"g":"a","t":19,"s":0.71},{"g":"a","t":30,"s":0.58},{"g":"a","t":41,"s":0.45},{"g":"a","t":52,"s":0.32},{"g":"a","t":64,"s":0.21},{"g":"a","t":71,"s":0.12},{"g":"a","t":78,"s":0.05},{"g":"b","t":0,"s":0.97},{"g":"b","t":8,"s":0.88},{"g":"b","t":19,"s":0.75},{"g":"b","t":30,"s":0.62},{"g":"b","t":38,"s":0.56},{"g":"b","t":54,"s":0.46},{"g":"b","t":71,"s":0.25},{"g":"b","t":96,"s":0.03}]},"mark":"line","encoding":{"x":{"field":"t","type":"quantitative","title":"p-value: 0.0155074"},"y":{"field":"s","type":"quantitative"},"color":{"field":"g"},"strokeDash":{"field":"g"}}},
{"title":"ELF1","data":{"values":[{"g":"a","t":0,"s":0.97},{"g":"a","t":4,"s":0.84},{"g":"a","t":12,"s":0.75},{"g":"a","t":23,"s":0.66},{"g":"a","t":34,"s":0.58},{"g":"a","t":45,"s":0.47},{"g":"a","t":56,"s":0.38},{"g":"a","t":67,"s":0.27},{"g":"a","t":75,"s":0.18},{"g":"a","t":80,"s":0.1},{"g":"a","t":96,"s":0.075},{"g":"b","t":0,"s":0.97},{"g":"b","t":3,"s":0.51},{"g":"b","t":15,"s":0.03}]},"mark":"line","encoding":{"x":{"field":"t","type":"quantitative","title":"p-value: 0.0227034"},"y":{"field":"s","type":"quantitative"},"color":{"field":"g"},"strokeDash":{"field":"g"}}},
{"title":"NRF1","data":{"values":[{"g":"a","t":0,"s":0.97},{"g":"a","t":4,"s":0.8},{"g":"a","t":10,"s":0.69},{"g":"a","t":19,"s":0.6},{"g":"a","t":30,"s":0.51},{"g":"a","t":46,"s":0.42},{"g":"a","t":56,"s":0.32},{"g":"a","t":67,"s":0.25},{"g":"a","t":73,"s":0.12},{"g":"a","t":78,"s":0.08},{"g":"a","t":97,"s":0.07},{"g":"b","t":0,"s":0.97},{"g":"b","t":3,"s":0.67},{"g":"b","t":16,"s":0.36},{"g":"b","t":21,"s":0.03}]},"mark":"line","encoding":{"x":{"field":"t","type":"quantitative","title":"p-value: 0.0448748"},"y":{"field":"s","type":"quantitative"},"color":{"field":"g"},"strokeDash":{"field":"g"}}},
{"view":{"stroke":null},"width":1,"height":1,"data":{"values":[]},"mark":"point"},
{"view":{"stroke":null},"width":1,"height":1,"data":{"values":[]},"mark":"point"},
{"view":{"stroke":null},"width":1,"height":1,"data":{"values":[]},"mark":"point"},
{"view":{"stroke":null},"width":1,"height":1,"data":{"values":[]},"mark":"point"},

{"view":{"stroke":null},"width":84,"height":77,"data":{"values":[{}]},"mark":{"type":"text","text":"THCA","fontSize":23,"dx":-2}},
{"title":"RXRA::VDR","data":{"values":[{"g":"a","t":0,"s":0.97},{"g":"a","t":8,"s":0.96},{"g":"a","t":19,"s":0.94},{"g":"a","t":27,"s":0.92},{"g":"a","t":36,"s":0.9},{"g":"a","t":38,"s":0.83},{"g":"a","t":41,"s":0.64},{"g":"a","t":43,"s":0.53},{"g":"a","t":82,"s":0.53},{"g":"b","t":0,"s":0.97},{"g":"b","t":19,"s":0.96},{"g":"b","t":30,"s":0.93},{"g":"b","t":41,"s":0.9},{"g":"b","t":56,"s":0.89},{"g":"b","t":64,"s":0.88},{"g":"b","t":66,"s":0.82},{"g":"b","t":97,"s":0.82}]},"mark":"line","encoding":{"x":{"field":"t","type":"quantitative","title":"p-value: 0.00828255"},"y":{"field":"s","type":"quantitative"},"color":{"field":"g"},"strokeDash":{"field":"g"}}},
{"title":"ECR::USP","data":{"values":[{"g":"a","t":0,"s":0.97},{"g":"a","t":8,"s":0.94},{"g":"a","t":23,"s":0.92},{"g":"a","t":34,"s":0.9},{"g":"a","t":35,"s":0.7},{"g":"a","t":66,"s":0.04},{"g":"b","t":0,"s":0.97},{"g":"b","t":12,"s":0.96},{"g":"b","t":27,"s":0.92},{"g":"b","t":38,"s":0.88},{"g":"b","t":41,"s":0.83},{"g":"b","t":97,"s":0.83}]},"mark":"line","encoding":{"x":{"field":"t","type":"quantitative","title":"p-value: 0.0100013"},"y":{"field":"s","type":"quantitative"},"color":{"field":"g"},"strokeDash":{"field":"g"}}},
{"title":"RXRA","data":{"values":[{"g":"a","t":0,"s":0.97},{"g":"a","t":12,"s":0.94},{"g":"a","t":23,"s":0.92},{"g":"a","t":34,"s":0.86},{"g":"a","t":36,"s":0.66},{"g":"a","t":40,"s":0.35},{"g":"a","t":50,"s":0.35},{"g":"b","t":0,"s":0.97},{"g":"b","t":15,"s":0.94},{"g":"b","t":30,"s":0.9},{"g":"b","t":41,"s":0.87},{"g":"b","t":53,"s":0.84},{"g":"b","t":64,"s":0.81},{"g":"b","t":96,"s":0.81}]},"mark":"line","encoding":{"x":{"field":"t","type":"quantitative","title":"p-value: 0.0239565"},"y":{"field":"s","type":"quantitative"},"color":{"field":"g"},"strokeDash":{"field":"g"}}},
{"title":"PAX5","data":{"values":[{"g":"a","t":0,"s":0.97},{"g":"a","t":16,"s":0.96},{"g":"a","t":30,"s":0.92},{"g":"a","t":38,"s":0.83},{"g":"a","t":44,"s":0.79},{"g":"a","t":63,"s":0.71},{"g":"a","t":97,"s":0.71},{"g":"b","t":0,"s":0.97},{"g":"b","t":23,"s":0.94},{"g":"b","t":45,"s":0.93},{"g":"b","t":97,"s":0.93}]},"mark":"line","encoding":{"x":{"field":"t","type":"quantitative","title":"p-value: 0.0399298"},"y":{"field":"s","type":"quantitative"},"color":{"field":"g"},"strokeDash":{"field":"g"}}},
{"title":"EBF1","data":{"values":[{"g":"a","t":0,"s":0.97},{"g":"a","t":12,"s":0.96},{"g":"a","t":19,"s":0.92},{"g":"a","t":30,"s":0.9},{"g":"a","t":36,"s":0.83},{"g":"a","t":41,"s":0.75},{"g":"a","t":97,"s":0.74},{"g":"b","t":0,"s":0.97},{"g":"b","t":16,"s":0.96},{"g":"b","t":34,"s":0.95},{"g":"b","t":66,"s":0.79},{"g":"b","t":96,"s":0.79}]},"mark":"line","encoding":{"x":{"field":"t","type":"quantitative","title":"p-value: 0.0420116"},"y":{"field":"s","type":"quantitative"},"color":{"field":"g"},"strokeDash":{"field":"g"}}},
{"title":"HNF4A","data":{"values":[{"g":"a","t":0,"s":0.97},{"g":"a","t":16,"s":0.95},{"g":"a","t":27,"s":0.92},{"g":"a","t":34,"s":0.89},{"g":"a","t":40,"s":0.75},{"g":"a","t":66,"s":0.39},{"g":"a","t":68,"s":0.39},{"g":"b","t":0,"s":0.97},{"g":"b","t":16,"s":0.96},{"g":"b","t":27,"s":0.93},{"g":"b","t":38,"s":0.9},{"g":"b","t":43,"s":0.83},{"g":"b","t":97,"s":0.83}]},"mark":"line","encoding":{"x":{"field":"t","type":"quantitative","title":"p-value: 0.0499348"},"y":{"field":"s","type":"quantitative"},"color":{"field":"g"},"strokeDash":{"field":"g"}}},
{"view":{"stroke":null},"width":1,"height":1,"data":{"values":[]},"mark":"point"},
{"view":{"stroke":null},"width":1,"height":1,"data":{"values":[]},"mark":"point"},

{"view":{"stroke":null},"width":84,"height":77,"data":{"values":[{}]},"mark":{"type":"text","text":"UCEC","fontSize":23,"dx":-2}},
{"title":"E2F4","data":{"values":[{"g":"a","t":0,"s":0.97},{"g":"a","t":4,"s":0.93},{"g":"a","t":10,"s":0.87},{"g":"a","t":17,"s":0.78},{"g":"a","t":25,"s":0.68},{"g":"a","t":97,"s":0.68},{"g":"b","t":0,"s":0.97},{"g":"b","t":8,"s":0.93},{"g":"b","t":17,"s":0.87},{"g":"b","t":26,"s":0.82},{"g":"b","t":55,"s":0.56},{"g":"b","t":90,"s":0.56}]},"mark":"line","encoding":{"x":{"field":"t","type":"quantitative","title":"p-value: 0.00221894"},"y":{"field":"s","type":"quantitative"},"color":{"field":"g"},"strokeDash":{"field":"g"}}},
{"title":"PAX5","data":{"values":[{"g":"a","t":0,"s":0.97},{"g":"a","t":8,"s":0.92},{"g":"a","t":16,"s":0.85},{"g":"a","t":27,"s":0.76},{"g":"a","t":34,"s":0.73},{"g":"a","t":53,"s":0.58},{"g":"a","t":96,"s":0.58},{"g":"b","t":0,"s":0.97},{"g":"b","t":12,"s":0.91},{"g":"b","t":27,"s":0.86},{"g":"b","t":55,"s":0.45},{"g":"b","t":69,"s":0.45}]},"mark":"line","encoding":{"x":{"field":"t","type":"quantitative","title":"p-value: 0.0111818"},"y":{"field":"s","type":"quantitative"},"color":{"field":"g"},"strokeDash":{"field":"g"}}},
{"title":"ELF1","data":{"values":[{"g":"a","t":0,"s":0.97},{"g":"a","t":8,"s":0.91},{"g":"a","t":16,"s":0.82},{"g":"a","t":23,"s":0.78},{"g":"a","t":30,"s":0.74},{"g":"a","t":42,"s":0.73},{"g":"a","t":54,"s":0.45},{"g":"a","t":96,"s":0.45},{"g":"b","t":0,"s":0.97},{"g":"b","t":12,"s":0.92},{"g":"b","t":21,"s":0.89},{"g":"b","t":69,"s":0.89}]},"mark":"line","encoding":{"x":{"field":"t","type":"quantitative","title":"p-value: 0.0113017"},"y":{"field":"s","type":"quantitative"},"color":{"field":"g"},"strokeDash":{"field":"g"}}},
{"title":"GATA2","data":{"values":[{"g":"a","t":0,"s":0.97},{"g":"a","t":8,"s":0.87},{"g":"a","t":19,"s":0.78},{"g":"a","t":30,"s":0.74},{"g":"a","t":52,"s":0.5},{"g":"a","t":97,"s":0.5},{"g":"b","t":0,"s":0.97},{"g":"b","t":12,"s":0.87},{"g":"b","t":23,"s":0.81},{"g":"b","t":55,"s":0.61},{"g":"b","t":89,"s":0.61}]},"mark":"line","encoding":{"x":{"field":"t","type":"quantitative","title":"p-value: 0.017712"},"y":{"field":"s","type":"quantitative"},"color":{"field":"g"},"strokeDash":{"field":"g"}}},
{"title":"E2F6","data":{"values":[{"g":"a","t":0,"s":0.97},{"g":"a","t":8,"s":0.91},{"g":"a","t":16,"s":0.82},{"g":"a","t":25,"s":0.76},{"g":"a","t":54,"s":0.58},{"g":"a","t":56,"s":0.39},{"g":"a","t":97,"s":0.39},{"g":"b","t":0,"s":0.97},{"g":"b","t":12,"s":0.91},{"g":"b","t":23,"s":0.87},{"g":"b","t":27,"s":0.8},{"g":"b","t":90,"s":0.8}]},"mark":"line","encoding":{"x":{"field":"t","type":"quantitative","title":"p-value: 0.035514"},"y":{"field":"s","type":"quantitative"},"color":{"field":"g"},"strokeDash":{"field":"g"}}},
{"title":"NR1H3::RXRA","data":{"values":[{"g":"a","t":0,"s":0.97},{"g":"a","t":8,"s":0.91},{"g":"a","t":17,"s":0.82},{"g":"a","t":25,"s":0.71},{"g":"a","t":53,"s":0.54},{"g":"a","t":56,"s":0.37},{"g":"a","t":90,"s":0.37},{"g":"b","t":0,"s":0.97},{"g":"b","t":12,"s":0.91},{"g":"b","t":25,"s":0.82},{"g":"b","t":97,"s":0.82}]},"mark":"line","encoding":{"x":{"field":"t","type":"quantitative","title":"p-value: 0.0386898"},"y":{"field":"s","type":"quantitative"},"color":{"field":"g"},"strokeDash":{"field":"g"}}},
{"title":"HNF4G","data":{"values":[{"g":"a","t":0,"s":0.97},{"g":"a","t":8,"s":0.91},{"g":"a","t":17,"s":0.8},{"g":"a","t":27,"s":0.74},{"g":"a","t":53,"s":0.58},{"g":"a","t":90,"s":0.58},{"g":"b","t":0,"s":0.97},{"g":"b","t":12,"s":0.91},{"g":"b","t":25,"s":0.82},{"g":"b","t":54,"s":0.43},{"g":"b","t":97,"s":0.43}]},"mark":"line","encoding":{"x":{"field":"t","type":"quantitative","title":"p-value: 0.041277"},"y":{"field":"s","type":"quantitative"},"color":{"field":"g"},"strokeDash":{"field":"g"}}}
],
"config":{
"font":"Liberation Sans",
"view":{"continuousWidth":90,"continuousHeight":77,"stroke":"#c8c8c8","strokeWidth":1},
"line":{"interpolate":"step-after","strokeWidth":1.1},
"range":{"category":["#2e8a2e","#c43030"]},
"legend":{"disable":true},
"title":{"fontSize":11.5,"fontStyle":"italic","fontWeight":"normal","color":"#1a1a1a","offset":1,"dy":3,"anchor":"middle","frame":"group"},
"axisX":{"labels":false,"ticks":false,"domain":false,"grid":false,"titleFontSize":7,"titleFontStyle":"italic","titleFontWeight":"normal","titlePadding":2,"titleColor":"#222222"},
"axisY":{"disable":true}
}
}
